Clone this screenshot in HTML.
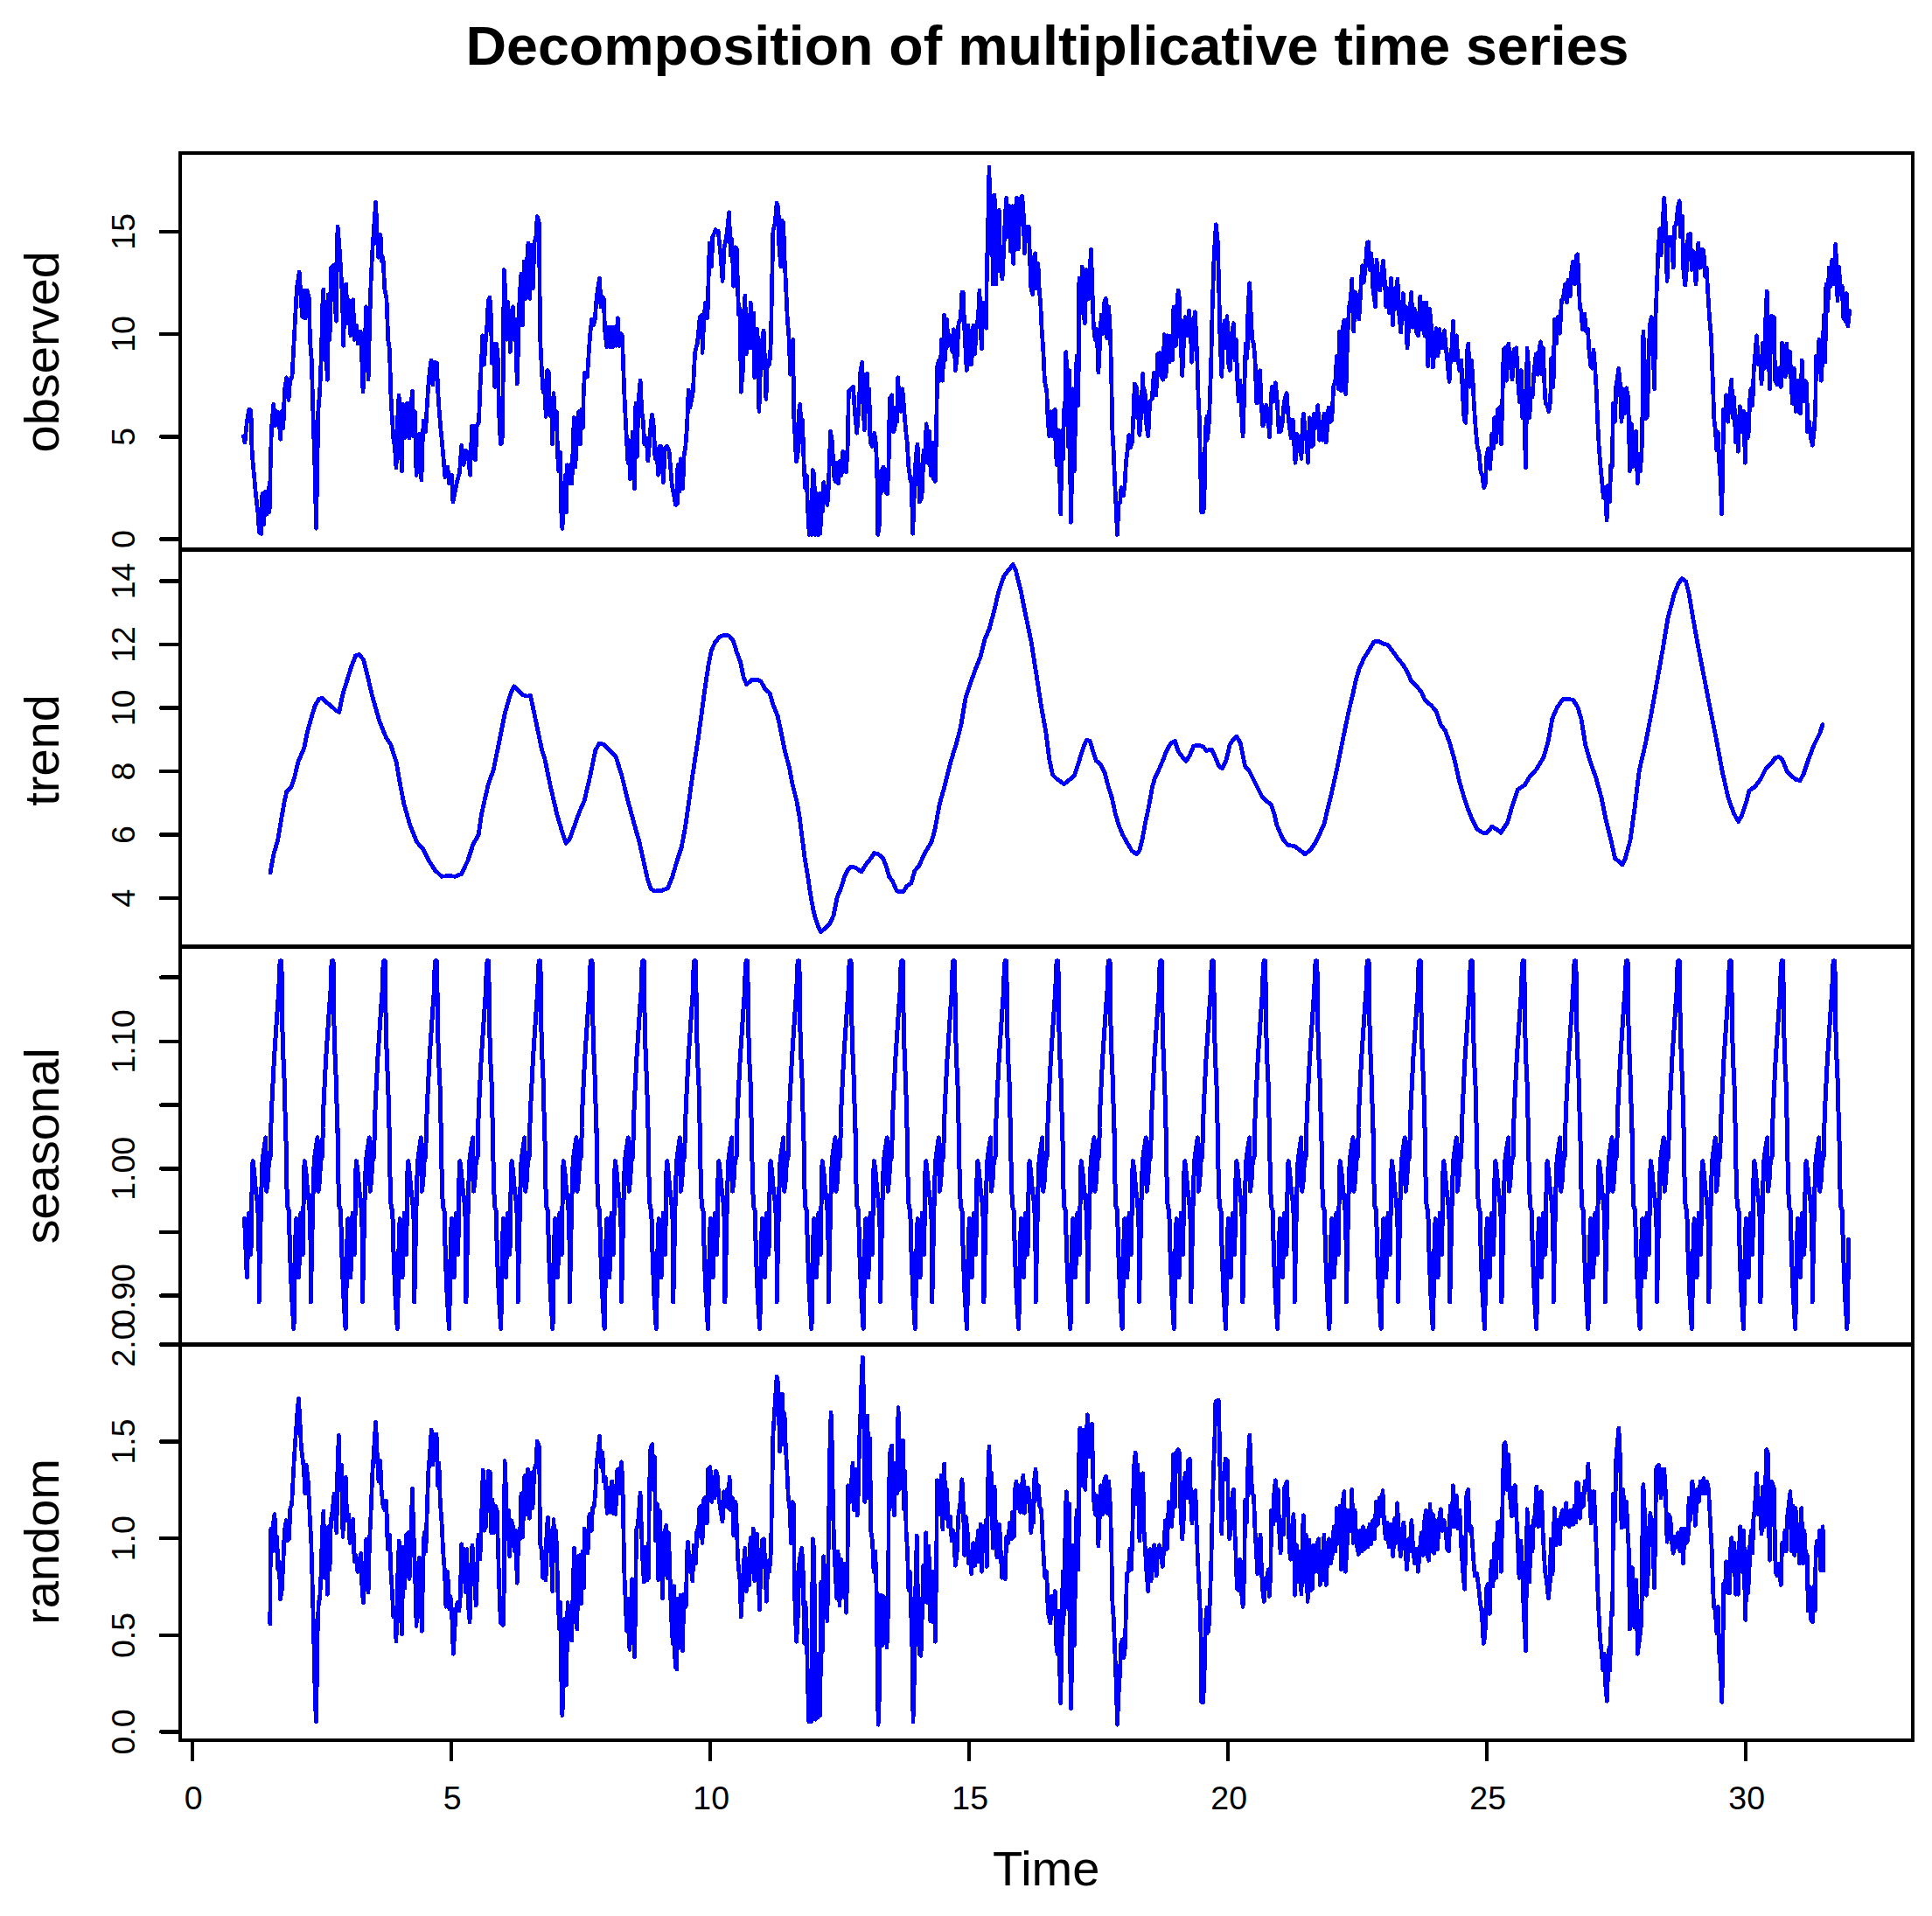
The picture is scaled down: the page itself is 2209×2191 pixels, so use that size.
<!DOCTYPE html>
<html><head><meta charset="utf-8"><title>Decomposition of multiplicative time series</title>
<style>
html,body{margin:0;padding:0;background:#fff;}
body{width:2209px;height:2191px;overflow:hidden;}
svg{display:block;}
text{font-family:"Liberation Sans",Arial,sans-serif;fill:#000;}
.ax{font-size:37.5px;}
.lab{font-size:56px;}
.ttl{font-size:63px;font-weight:bold;}
.ln{fill:none;stroke:#0000ff;stroke-linejoin:round;stroke-linecap:round;}
.k{stroke:#000;fill:none;}
</style></head><body>
<svg width="2209" height="2191" viewBox="0 0 2209 2191">
<rect x="0" y="0" width="2209" height="2191" fill="#fff"/>

<text class="ttl" x="1197.5" y="74" text-anchor="middle" textLength="1330" lengthAdjust="spacingAndGlyphs">Decomposition of multiplicative time series</text>
<polyline class="ln" stroke-width="4.7" shape-rendering="crispEdges" points="278.3,498.7 280.0,505.8 282.3,482.3 284.7,468.2 287.0,469.4 287.7,505.8 288.7,524.6 290.5,543.4 292.4,564.5 294.8,585.6 296.4,609.1 298.8,610.3 299.9,564.5 301.8,599.7 303.4,562.2 305.1,588.0 307.0,557.5 308.1,585.6 309.3,529.3 310.5,489.4 312.8,462.3 314.5,487.0 316.4,470.6 318.7,472.9 320.6,502.3 322.2,470.6 323.9,489.4 325.3,447.1 327.6,431.8 330.0,457.6 331.6,435.3 334.0,430.6 335.6,400.1 337.5,364.9 339.4,329.7 342.2,310.9 344.1,341.4 345.7,362.5 347.4,332.0 349.2,363.7 351.1,332.0 353.5,341.4 354.4,388.4 356.3,411.9 357.5,458.8 358.6,494.1 359.8,529.3 361.5,604.4 362.9,529.3 363.8,470.6 365.7,447.1 367.6,400.1 368.5,353.1 369.9,330.8 371.6,411.9 372.3,364.9 373.2,411.9 374.4,434.2 375.1,336.7 377.0,388.4 378.6,306.2 380.9,303.8 382.6,341.4 384.5,367.2 384.9,294.4 386.1,259.2 388.0,282.7 389.6,306.2 391.5,341.4 392.7,395.4 393.9,346.1 395.7,325.0 397.4,369.6 399.0,343.7 400.9,383.7 403.7,342.6 405.1,388.4 407.5,371.9 409.1,393.1 412.2,379.0 413.8,411.9 415.0,448.3 416.9,411.9 418.5,350.8 420.2,388.4 421.1,434.2 422.5,376.6 423.9,327.3 425.6,289.7 427.2,266.2 429.6,231.0 431.4,270.9 432.6,294.4 435.0,268.6 436.6,299.1 438.0,294.4 439.7,329.7 442.0,341.4 443.7,388.4 445.5,400.1 446.7,447.1 447.9,470.6 449.8,501.1 451.4,510.5 453.0,535.1 454.5,482.3 456.1,451.8 457.7,505.8 459.6,538.7 460.8,462.3 462.4,501.1 464.3,462.3 466.2,461.2 467.8,501.1 469.5,470.6 471.4,447.1 472.5,498.7 474.2,470.6 476.1,543.4 477.9,498.7 479.6,496.4 481.9,549.2 483.1,505.8 484.3,481.1 486.6,494.1 488.3,463.5 489.7,442.4 491.3,423.6 493.0,411.9 494.9,440.0 496.7,414.2 499.5,415.4 500.7,447.1 501.9,465.9 503.8,489.4 505.4,505.8 507.1,524.6 508.9,545.7 511.8,534.0 513.6,552.8 516.5,543.4 517.9,573.9 520.2,562.2 522.6,550.4 525.4,541.0 527.7,509.3 530.1,531.6 532.4,515.2 534.8,517.5 537.6,543.4 539.5,487.0 541.2,487.0 543.5,525.8 545.2,487.0 547.5,482.3 548.9,444.7 550.6,411.9 551.7,383.7 553.6,416.5 555.3,388.4 556.9,371.9 558.3,343.7 560.0,340.2 561.6,364.9 562.3,415.4 564.0,393.1 565.8,442.4 567.7,393.1 569.4,411.9 570.5,470.6 572.4,508.1 574.1,505.8 575.2,435.3 575.7,364.9 576.4,308.5 578.0,341.4 579.5,388.4 580.4,344.9 581.8,364.9 583.4,402.5 584.6,357.8 586.5,350.8 588.1,388.4 589.3,364.9 591.2,438.9 592.8,388.4 594.0,341.4 595.9,313.2 597.5,371.9 599.2,299.1 601.1,341.4 602.2,303.8 603.9,278.0 605.8,341.4 607.6,280.3 609.3,329.7 610.9,278.0 612.8,270.9 614.2,247.5 616.3,254.5 617.0,317.9 617.5,383.7 619.4,423.6 621.0,448.3 622.7,435.3 624.1,476.4 625.7,423.6 627.4,425.9 628.8,475.3 630.4,458.8 631.6,508.1 633.0,449.4 634.4,482.3 636.3,470.6 637.5,517.5 638.6,538.7 640.5,517.5 641.5,580.9 642.9,604.4 644.5,576.2 646.2,543.4 647.6,585.6 648.5,531.6 650.4,552.8 651.6,531.6 653.9,552.8 655.1,510.5 656.3,477.6 657.9,534.0 659.8,482.3 661.7,470.6 663.3,508.1 664.9,468.2 666.4,489.4 667.3,447.1 668.7,425.9 671.5,430.6 673.4,400.1 675.0,379.0 676.7,364.9 678.6,371.9 680.4,364.9 681.6,346.1 683.3,332.0 685.6,317.9 687.0,350.8 688.4,339.0 690.3,341.4 691.5,376.6 693.8,396.6 695.5,374.3 697.4,396.6 699.2,374.3 700.9,396.6 703.2,374.3 704.4,395.4 706.3,363.7 707.9,395.4 709.6,381.3 711.4,383.7 712.6,416.5 713.8,449.4 715.0,475.3 716.6,505.8 718.0,529.3 719.0,503.4 720.4,548.1 722.0,524.6 723.2,494.1 725.5,558.6 726.9,461.2 728.4,522.2 729.8,461.2 732.1,435.3 733.8,470.6 735.4,482.3 736.8,508.1 739.2,501.1 740.8,526.9 743.1,501.1 744.3,482.3 745.7,474.1 747.6,489.4 749.0,524.6 750.9,512.8 752.5,543.4 754.2,510.5 756.1,510.5 758.4,551.6 760.3,512.8 762.6,510.5 765.0,515.2 766.6,534.0 768.3,555.1 770.2,564.5 772.5,577.4 774.4,576.2 774.9,531.6 776.7,562.2 778.4,524.6 780.7,558.6 781.9,522.2 783.8,510.5 785.4,489.4 786.6,463.5 787.1,445.9 788.9,465.9 790.8,456.5 792.5,447.1 793.6,421.2 794.8,402.5 797.2,393.1 798.3,383.7 800.2,362.5 802.6,360.2 803.0,403.6 804.9,364.9 806.6,346.1 808.9,363.7 810.1,317.9 811.3,278.0 813.6,305.0 814.8,270.9 818.3,262.7 820.6,266.2 821.2,263.9 824.2,294.4 826.1,321.4 828.2,282.7 831.3,266.2 833.6,242.8 835.3,292.1 836.9,273.3 838.8,327.3 840.7,282.7 842.5,285.0 843.5,329.7 844.7,360.2 846.3,353.1 847.2,448.3 849.4,423.6 850.5,388.4 851.9,337.9 853.3,404.8 855.2,371.9 856.4,397.8 858.3,346.1 859.9,397.8 861.8,357.8 862.7,431.8 864.6,376.6 866.0,376.6 867.9,470.6 869.8,411.9 871.7,388.4 873.1,377.8 874.5,411.9 875.9,456.5 877.5,411.9 879.9,416.5 881.5,388.4 882.5,329.7 883.9,263.9 886.2,254.5 888.1,232.2 890.0,238.1 890.9,282.7 892.8,305.0 894.0,252.2 895.6,254.5 897.0,294.4 898.7,329.7 900.3,364.9 902.2,388.4 903.6,428.3 905.5,425.9 906.9,388.4 907.4,470.6 908.8,494.1 910.4,528.1 912.1,519.9 913.5,470.6 914.9,462.3 916.3,505.8 917.5,480.0 919.1,529.3 920.5,557.5 922.2,543.4 923.3,576.2 925.2,611.5 926.9,576.2 928.0,611.5 929.2,537.5 930.9,543.4 932.3,611.5 933.9,564.5 935.5,611.5 937.0,564.5 937.9,610.3 939.3,564.5 940.2,585.6 941.7,551.6 944.0,562.2 945.9,577.4 947.3,557.5 948.7,517.5 949.6,492.9 951.5,505.8 953.4,543.4 955.0,550.4 956.2,529.3 958.6,552.8 960.4,526.9 962.1,543.4 963.7,516.4 965.6,538.7 967.5,539.8 969.4,505.8 970.3,447.1 972.7,444.7 975.5,442.4 977.4,470.6 979.7,495.2 981.6,470.6 982.5,456.5 983.9,423.6 985.8,414.2 987.2,458.8 988.2,491.7 989.6,458.8 991.4,427.1 992.6,470.6 993.8,444.7 995.0,505.8 997.3,510.5 999.7,495.2 1001.3,505.8 1002.7,534.0 1003.7,611.5 1005.5,599.7 1006.7,538.7 1008.4,562.2 1009.8,534.0 1011.4,536.3 1012.6,562.2 1014.5,564.5 1016.1,529.3 1016.8,482.3 1017.7,455.3 1019.6,451.8 1021.5,494.1 1023.1,489.4 1024.3,465.9 1025.7,482.3 1026.7,431.8 1028.5,465.9 1030.2,470.6 1031.8,444.7 1033.7,468.2 1035.6,491.7 1037.2,505.8 1038.9,534.0 1040.8,548.1 1042.2,552.8 1043.6,610.3 1045.0,576.2 1045.9,543.4 1047.3,522.2 1049.0,508.1 1050.2,529.3 1051.3,573.9 1053.0,571.6 1054.4,562.2 1056.0,515.2 1057.7,529.3 1059.1,484.7 1060.7,529.3 1062.4,492.9 1064.2,543.4 1066.1,505.8 1067.1,546.9 1069.4,550.4 1070.8,477.6 1071.8,418.9 1073.6,411.9 1074.8,435.3 1076.5,388.4 1077.9,435.3 1079.5,360.2 1080.7,411.9 1082.6,364.9 1084.2,395.4 1086.6,383.7 1088.9,402.5 1090.5,376.6 1092.4,423.6 1094.3,407.2 1096.0,369.6 1098.3,364.9 1099.9,334.4 1101.2,334.4 1102.8,376.6 1105.2,423.6 1107.0,371.9 1108.9,416.5 1110.8,416.5 1112.9,371.9 1114.6,404.8 1116.4,371.9 1118.3,364.9 1120.0,332.0 1121.1,376.6 1122.5,398.9 1124.0,346.1 1125.8,364.9 1127.7,375.4 1128.2,317.9 1129.4,266.2 1130.5,224.0 1131.0,191.1 1132.4,289.7 1134.1,224.0 1135.2,325.0 1137.1,222.8 1138.8,325.0 1140.4,270.9 1142.3,240.4 1143.7,303.8 1146.0,319.1 1148.1,278.0 1149.3,247.5 1150.7,226.3 1152.1,270.9 1154.0,235.7 1155.4,287.4 1157.3,235.7 1158.7,301.5 1160.6,247.5 1162.5,226.3 1164.3,285.0 1166.2,228.7 1168.6,224.0 1170.0,238.1 1171.4,289.7 1173.3,259.2 1176.3,259.2 1177.5,294.4 1178.9,329.7 1180.8,336.7 1182.2,294.4 1183.6,289.7 1185.0,329.7 1186.9,301.5 1188.3,332.0 1189.7,346.1 1191.1,376.6 1192.8,400.1 1194.4,435.3 1196.8,447.1 1198.2,482.3 1199.8,498.7 1201.5,470.6 1203.3,498.7 1204.7,470.6 1206.2,468.2 1207.1,517.5 1208.5,531.6 1209.9,491.7 1211.3,529.3 1212.7,588.0 1213.7,529.3 1214.6,491.7 1215.5,524.6 1216.5,470.6 1217.9,458.8 1218.8,402.5 1220.2,435.3 1221.2,510.5 1222.6,423.6 1223.5,529.3 1224.5,597.4 1225.9,529.3 1226.8,444.7 1228.2,538.7 1229.6,482.3 1231.0,407.2 1232.9,463.5 1233.9,317.9 1235.7,357.8 1237.2,305.0 1238.6,357.8 1240.4,369.6 1242.3,308.5 1243.7,327.3 1245.1,341.4 1246.1,308.5 1247.5,285.0 1248.9,329.7 1250.3,371.9 1252.2,388.4 1254.1,376.6 1255.9,425.9 1257.8,388.4 1259.2,360.2 1261.1,381.3 1262.5,346.1 1264.4,341.4 1265.8,387.2 1267.7,350.8 1269.6,383.7 1271.0,444.7 1271.9,494.1 1273.3,517.5 1274.7,552.8 1276.1,580.9 1277.5,611.5 1279.0,576.2 1280.8,573.9 1282.0,557.5 1284.4,566.9 1286.0,555.1 1287.4,529.3 1289.1,515.2 1290.7,497.6 1292.6,511.7 1294.5,505.8 1295.9,475.3 1297.3,438.9 1299.2,442.4 1300.1,477.6 1301.5,454.1 1302.9,497.6 1304.8,470.6 1306.7,427.1 1308.1,470.6 1309.0,447.1 1310.9,487.0 1312.8,498.7 1314.7,458.8 1317.2,456.5 1319.4,425.9 1321.9,451.8 1323.6,404.8 1325.9,403.6 1327.8,430.6 1329.7,434.2 1331.3,382.5 1333.0,430.6 1334.9,383.7 1337.2,414.2 1339.1,383.7 1340.7,411.9 1341.9,350.8 1344.2,395.4 1345.7,350.8 1347.1,332.0 1348.5,341.4 1349.9,388.4 1351.8,429.5 1353.6,388.4 1355.0,362.5 1357.2,383.7 1359.5,355.5 1361.2,374.3 1362.6,414.2 1364.4,374.3 1366.3,356.7 1367.7,383.7 1368.9,414.2 1370.1,454.1 1371.5,482.3 1372.4,529.3 1373.8,585.6 1376.0,585.6 1377.1,564.5 1378.1,494.1 1379.9,476.4 1380.0,503.4 1381.9,491.7 1383.3,458.8 1384.7,416.5 1386.1,355.5 1388.0,294.4 1390.3,256.8 1392.2,275.6 1393.6,322.6 1395.0,388.4 1396.9,430.6 1398.3,388.4 1400.0,367.2 1401.1,397.8 1403.0,361.4 1404.7,416.5 1406.3,423.6 1408.2,383.7 1410.5,369.6 1411.9,411.9 1413.3,388.4 1414.8,435.3 1416.2,458.8 1418.0,435.3 1419.5,470.6 1421.1,498.7 1422.7,449.4 1424.2,393.1 1426.0,409.5 1427.0,350.8 1428.8,323.8 1430.3,360.2 1431.7,388.4 1433.5,393.1 1435.0,411.9 1436.8,461.2 1438.7,458.8 1440.6,423.6 1442.0,458.8 1443.9,487.0 1445.8,482.3 1447.6,463.5 1449.5,470.6 1451.6,499.9 1453.3,458.8 1454.2,442.4 1456.3,458.8 1458.4,437.7 1460.3,458.8 1462.2,494.1 1464.5,492.9 1466.4,482.3 1468.3,458.8 1471.1,449.4 1472.8,472.9 1474.4,489.4 1476.3,501.1 1478.2,480.0 1479.6,505.8 1481.0,529.3 1482.9,496.4 1484.7,515.2 1486.6,498.7 1488.0,524.6 1489.4,482.3 1490.4,472.9 1492.3,494.1 1494.1,505.8 1495.5,529.3 1497.4,477.6 1499.3,510.5 1501.2,509.3 1502.6,472.9 1504.5,489.4 1506.8,463.5 1508.7,503.4 1510.6,482.3 1512.5,503.4 1513.9,472.9 1516.2,505.8 1518.1,482.3 1519.0,465.9 1520.9,482.3 1522.8,480.0 1524.7,442.4 1526.8,435.3 1528.4,407.2 1530.3,444.7 1531.7,379.0 1533.6,447.1 1535.0,376.6 1536.9,366.1 1538.8,450.6 1540.6,388.4 1542.5,350.8 1544.4,341.4 1545.8,319.1 1547.7,379.0 1549.6,334.4 1551.9,339.0 1553.8,364.9 1555.7,334.4 1557.5,303.8 1559.4,322.6 1561.3,303.8 1563.2,278.0 1564.6,276.8 1566.0,308.5 1567.9,289.7 1569.8,329.7 1572.6,350.8 1574.0,296.8 1575.9,322.6 1577.7,332.0 1579.6,313.2 1581.5,297.9 1583.4,322.6 1584.8,350.8 1586.7,329.7 1588.5,357.8 1590.4,317.9 1592.5,371.9 1594.2,329.7 1596.1,353.1 1597.9,319.1 1599.8,360.2 1601.7,380.1 1604.3,335.5 1605.9,364.9 1607.3,350.8 1609.0,397.8 1611.3,364.9 1613.7,334.4 1615.3,374.3 1617.2,353.1 1619.1,379.0 1621.4,383.7 1623.8,339.0 1625.7,376.6 1627.5,346.1 1628.9,383.7 1630.8,346.1 1632.7,418.9 1634.6,353.1 1636.5,374.3 1638.3,420.1 1640.2,400.1 1642.1,375.4 1644.0,407.2 1645.9,376.6 1647.7,397.8 1649.6,397.8 1651.5,377.8 1653.4,400.1 1655.2,416.5 1657.1,436.5 1659.0,400.1 1660.0,400.1 1661.4,367.2 1663.3,411.9 1665.2,383.7 1667.0,411.9 1668.9,423.6 1670.8,411.9 1672.2,447.1 1674.1,480.0 1676.0,483.5 1677.4,402.5 1678.8,393.1 1680.7,442.4 1682.5,411.9 1684.0,435.3 1685.4,463.5 1687.2,489.4 1689.1,510.5 1691.0,517.5 1692.9,538.7 1694.8,543.4 1696.6,557.5 1698.5,552.8 1699.9,519.9 1701.8,512.8 1703.7,536.3 1705.6,496.4 1707.4,512.8 1708.8,477.6 1710.7,505.8 1712.6,468.2 1714.5,465.9 1716.4,508.1 1717.8,458.8 1719.2,400.1 1721.1,397.8 1722.5,435.3 1724.8,393.1 1726.7,411.9 1729.0,434.2 1730.9,400.1 1733.7,397.8 1735.6,435.3 1737.5,460.0 1739.4,423.6 1740.8,477.6 1742.2,447.1 1743.6,505.8 1744.5,535.1 1745.5,458.8 1746.0,397.8 1747.4,416.5 1748.8,477.6 1750.4,447.1 1752.1,454.1 1753.9,425.9 1756.3,404.8 1758.2,428.3 1759.6,402.5 1761.5,390.7 1763.3,428.3 1764.3,397.8 1765.7,435.3 1767.1,461.2 1769.0,463.5 1770.9,470.6 1772.7,458.8 1773.7,409.5 1776.0,442.4 1777.4,364.9 1779.3,393.1 1781.2,362.5 1783.5,381.3 1785.4,343.7 1787.3,341.4 1789.6,325.0 1791.5,346.1 1792.9,320.3 1795.3,339.0 1796.7,310.9 1798.6,299.1 1800.4,325.0 1802.3,292.1 1803.7,290.9 1805.1,322.6 1806.5,353.1 1808.0,355.5 1809.4,376.6 1811.7,359.0 1813.6,379.0 1815.5,376.6 1816.9,400.1 1818.8,418.9 1820.6,421.2 1822.0,400.1 1823.9,423.6 1825.3,447.1 1826.7,482.3 1828.2,510.5 1829.6,529.3 1831.4,548.1 1833.3,569.2 1835.2,557.5 1837.1,595.0 1838.5,555.1 1840.4,573.9 1841.8,531.6 1843.2,534.0 1844.6,461.2 1846.5,482.3 1847.9,440.0 1849.3,433.0 1850.7,421.2 1852.1,435.3 1854.0,482.3 1855.9,444.7 1857.7,472.9 1859.6,443.6 1861.5,454.1 1862.4,482.3 1863.4,538.7 1865.3,484.7 1866.7,534.0 1868.5,524.6 1870.4,492.9 1872.3,552.8 1873.7,519.9 1875.6,538.7 1877.5,505.8 1878.4,435.3 1878.9,379.0 1880.3,414.2 1881.7,478.8 1883.6,475.3 1885.0,411.9 1886.4,371.9 1888.3,362.5 1890.2,402.5 1891.6,444.7 1893.0,362.5 1894.4,327.3 1895.8,289.7 1897.7,261.5 1899.1,292.1 1901.0,256.8 1902.8,226.3 1904.2,254.5 1906.1,321.4 1907.5,270.9 1909.4,275.6 1911.3,270.9 1913.2,306.2 1914.6,259.2 1916.5,256.8 1918.3,238.1 1920.2,229.8 1921.6,270.9 1923.5,247.5 1924.9,310.9 1926.8,326.1 1928.2,310.9 1930.1,268.6 1932.4,267.4 1934.3,308.5 1936.2,287.4 1938.1,308.5 1939.0,325.0 1940.4,294.4 1941.8,278.0 1943.7,306.2 1945.1,285.0 1947.9,286.2 1949.3,315.6 1951.2,306.2 1952.6,332.0 1954.5,362.5 1956.4,383.7 1958.3,435.3 1959.9,480.0 1961.1,489.4 1962.9,515.2 1964.3,494.1 1965.8,529.3 1967.2,548.1 1968.6,588.0 1970.0,529.3 1970.5,468.2 1972.3,477.6 1973.7,451.8 1975.6,482.3 1977.5,454.1 1979.8,434.2 1981.3,477.6 1982.7,454.1 1984.5,505.8 1986.0,482.3 1987.4,516.4 1989.2,464.7 1991.1,494.1 1992.5,470.6 1993.9,470.6 1995.3,529.3 1996.8,472.9 1998.2,501.1 1999.6,491.7 2000.5,458.8 2001.9,444.7 2003.8,463.5 2005.2,423.6 2007.1,402.5 2008.5,383.7 2010.4,416.5 2012.3,407.2 2014.1,438.9 2015.5,391.9 2017.4,421.2 2018.8,364.9 2020.2,333.2 2021.7,388.4 2023.5,444.7 2024.9,361.4 2028.2,362.5 2029.6,435.3 2032.0,440.0 2033.9,421.2 2036.2,442.4 2037.6,391.9 2039.5,418.9 2041.4,430.6 2042.8,393.1 2044.7,425.9 2046.5,402.5 2048.0,435.3 2049.4,461.2 2051.2,421.2 2053.1,470.6 2055.0,435.3 2056.9,470.6 2058.8,472.9 2060.2,411.9 2062.0,458.8 2063.9,435.3 2065.8,438.9 2066.7,494.1 2068.6,482.3 2070.5,501.1 2072.4,509.3 2074.3,491.7 2075.7,468.2 2076.6,407.2 2078.5,423.6 2079.9,388.4 2082.2,435.3 2083.7,411.9 2085.5,360.2 2086.9,414.2 2087.9,325.0 2089.8,355.5 2091.2,306.2 2093.0,327.3 2094.9,296.8 2096.8,325.0 2098.7,279.2 2100.1,313.2 2101.0,343.7 2102.4,305.0 2104.3,327.3 2106.2,327.3 2107.6,362.5 2110.0,367.2 2111.4,335.5 2112.8,373.1 2114.7,355.5"/>
<polyline class="ln" stroke-width="4.8" shape-rendering="crispEdges" points="309.0,998.0 312.9,976.8 317.8,960.0 321.9,935.4 325.1,917.3 327.6,905.6 332.8,900.4 336.7,888.8 341.1,870.7 347.8,855.2 351.4,837.0 356.1,820.2 360.0,807.3 364.6,799.5 368.5,798.2 373.7,803.4 379.4,808.1 384.1,812.5 387.7,814.3 391.8,794.3 396.2,780.1 401.4,763.3 406.6,749.6 410.5,748.5 415.6,754.2 419.5,769.8 425.5,795.6 433.7,824.1 441.5,843.5 446.7,851.3 453.2,872.0 457.0,894.0 461.7,918.6 468.7,943.1 476.4,962.6 484.2,971.6 489.4,982.5 497.2,994.9 504.9,1002.2 512.7,1001.6 520.4,1002.2 527.4,999.6 534.7,984.6 541.1,965.1 547.1,954.8 550.2,932.8 558.0,897.9 564.4,879.7 570.9,847.4 577.4,815.0 583.9,793.0 587.7,784.8 591.6,788.4 596.8,794.3 602.0,796.1 606.6,795.6 612.3,822.8 619.6,857.7 622.7,866.8 629.1,897.9 636.9,931.5 643.4,953.5 647.3,964.4 651.1,960.0 656.3,945.7 662.8,927.6 668.0,916.0 674.4,888.8 680.9,857.7 685.3,850.0 690.0,851.3 696.4,857.7 704.2,865.5 710.7,886.2 718.4,917.3 727.5,950.9 730.0,958.7 735.2,982.0 740.4,1005.3 744.2,1016.1 748.1,1019.0 755.9,1018.7 763.6,1015.6 768.8,1002.7 774.0,984.6 779.2,969.0 783.1,948.3 786.9,922.4 790.8,894.0 794.7,868.1 798.6,842.2 802.5,813.7 806.3,785.3 810.2,759.4 813.3,743.9 817.5,734.8 822.7,728.3 828.3,726.3 833.5,727.0 838.2,732.2 842.6,746.5 846.5,756.8 850.3,774.9 853.7,782.7 859.4,777.5 864.6,777.0 869.8,778.8 874.9,787.9 880.1,792.5 884.0,806.0 889.2,818.9 893.0,837.0 897.7,860.3 902.1,875.9 906.0,896.6 911.2,917.3 914.3,935.4 916.9,956.1 920.2,982.0 924.1,1005.3 927.2,1026.0 930.6,1044.1 934.5,1057.0 938.3,1065.6 942.2,1062.7 948.7,1056.5 953.1,1046.7 957.2,1026.0 961.6,1015.6 965.5,1002.7 969.4,994.9 973.3,991.0 978.4,992.3 984.9,997.0 990.1,988.4 995.3,982.0 999.7,975.5 1004.3,976.8 1009.5,981.4 1013.4,991.0 1016.7,1002.7 1020.4,1007.3 1025.0,1018.2 1028.9,1020.0 1032.8,1019.5 1036.7,1013.5 1041.9,1009.9 1045.7,996.2 1050.9,989.7 1057.4,975.5 1065.1,962.6 1069.0,948.3 1074.2,919.9 1080.7,896.6 1087.1,870.7 1093.6,850.0 1098.8,829.3 1104.0,798.2 1109.1,782.7 1115.6,764.6 1120.8,751.6 1126.0,730.9 1131.1,719.3 1136.3,699.9 1141.5,677.9 1148.0,658.5 1153.1,652.0 1158.3,645.5 1161.7,653.3 1167.4,676.6 1172.5,702.5 1179.0,733.5 1185.5,774.9 1190.7,808.6 1195.8,837.0 1199.7,868.1 1203.6,886.2 1208.8,891.4 1210.0,891.9 1216.5,896.6 1221.6,892.7 1228.1,887.5 1233.3,872.0 1238.5,855.2 1242.3,846.1 1246.2,847.4 1250.1,860.3 1253.5,870.2 1257.9,873.3 1263.1,883.6 1267.5,900.4 1271.6,913.4 1275.2,930.2 1279.4,944.4 1283.8,954.8 1288.9,963.9 1294.1,972.9 1299.3,976.8 1302.7,972.9 1306.3,958.7 1309.6,940.6 1313.5,922.4 1317.4,900.4 1320.8,888.8 1325.2,879.7 1329.6,869.4 1334.2,857.7 1338.9,849.5 1343.3,847.4 1347.2,859.0 1351.8,865.5 1356.2,870.2 1360.1,864.2 1364.8,853.1 1370.5,852.0 1375.6,853.9 1379.5,858.3 1385.5,857.2 1389.9,866.8 1393.7,875.9 1397.6,879.0 1402.0,869.4 1406.2,851.3 1409.8,846.1 1413.9,842.2 1418.3,850.0 1420.9,862.9 1423.5,875.9 1428.7,882.3 1433.9,892.7 1439.0,903.0 1442.9,910.8 1448.1,916.0 1453.3,919.9 1457.2,931.5 1459.7,943.1 1463.6,952.2 1467.5,960.7 1472.7,966.4 1480.4,967.7 1485.6,971.6 1492.1,976.8 1498.6,971.6 1503.7,963.9 1508.9,953.5 1514.1,941.9 1518.0,925.0 1523.1,904.3 1528.8,878.4 1533.5,855.2 1538.2,831.9 1542.6,811.2 1546.4,795.6 1550.3,777.5 1554.2,764.6 1559.4,752.9 1565.8,742.6 1571.0,734.0 1576.2,733.0 1581.4,736.1 1586.6,737.4 1591.7,743.9 1598.2,752.9 1604.7,760.7 1609.8,769.8 1613.7,778.8 1620.2,785.3 1625.4,791.7 1629.3,800.8 1635.7,806.0 1641.7,812.5 1646.9,828.0 1652.5,835.7 1657.7,850.0 1662.9,868.1 1668.1,891.4 1673.3,909.5 1678.4,925.0 1683.6,938.0 1688.8,947.8 1690.0,948.8 1695.2,952.2 1700.4,952.2 1706.0,945.2 1712.0,948.8 1715.9,952.2 1723.6,940.6 1728.8,922.4 1735.3,903.0 1743.1,897.9 1749.5,887.5 1756.8,879.7 1765.1,865.5 1770.2,847.4 1774.9,821.5 1780.6,808.6 1787.0,799.5 1793.5,799.5 1798.7,800.3 1803.9,808.6 1807.8,821.5 1812.9,852.6 1818.1,870.7 1824.6,888.8 1831.0,912.1 1836.2,938.0 1842.7,963.9 1846.6,982.0 1850.5,984.6 1854.9,989.0 1858.2,982.0 1863.9,961.3 1868.6,927.6 1874.3,881.0 1881.5,850.0 1888.0,816.3 1894.5,780.1 1900.9,743.9 1906.9,707.6 1913.9,680.5 1919.0,667.5 1922.9,661.6 1927.6,664.9 1931.2,679.2 1935.9,707.6 1941.0,736.1 1947.5,769.8 1954.0,803.4 1961.7,842.2 1969.5,883.6 1976.0,912.1 1982.4,930.2 1987.6,939.3 1991.5,932.8 1996.7,917.3 2000.0,904.3 2007.0,899.2 2013.5,890.1 2018.7,879.7 2025.1,873.3 2029.5,866.8 2034.2,865.5 2038.1,869.4 2043.3,882.3 2048.4,887.5 2053.6,891.4 2058.0,892.7 2062.2,884.9 2067.8,868.1 2074.3,851.3 2080.8,838.3 2083.9,828.8"/>
<polyline class="ln" stroke-width="5.0" shape-rendering="crispEdges" points="279.4,1398.6 279.6,1393.6 281.1,1430.7 282.4,1460.7 283.7,1417.9 284.7,1387.2 286.3,1417.9 286.9,1434.5 287.8,1379.5 288.3,1341.2 289.1,1327.7 290.7,1341.2 292.4,1361.6 294.2,1374.4 295.5,1394.9 296.0,1430.7 296.1,1488.8 297.3,1430.7 298.4,1379.5 299.3,1347.5 300.1,1327.1 301.6,1315.6 303.8,1300.9 304.2,1328.4 304.7,1362.3 306.1,1351.4 307.4,1328.4 309.3,1322.0 309.3,1309.2 310.0,1297.7 309.8,1289.1 311.0,1259.1 312.2,1235.1 313.4,1211.1 314.6,1193.0 316.2,1169.0 317.4,1151.0 318.8,1133.0 319.4,1109.0 320.3,1098.8 321.8,1098.8 322.4,1133.0 322.7,1169.0 323.4,1193.0 324.2,1217.1 325.4,1241.1 326.0,1271.1 327.0,1301.1 326.9,1290.0 327.2,1328.4 327.8,1353.9 328.7,1379.5 330.4,1384.6 331.0,1411.5 332.0,1443.5 333.6,1481.8 335.9,1519.5 336.9,1469.0 337.8,1417.9 338.8,1393.6 340.3,1430.7 341.6,1460.7 342.9,1417.9 343.9,1387.2 345.5,1417.9 346.1,1434.5 347.0,1379.5 347.5,1341.2 348.3,1327.7 349.9,1341.2 351.6,1361.6 353.4,1374.4 354.7,1394.9 355.2,1430.7 355.3,1488.8 356.5,1430.7 357.6,1379.5 358.5,1347.5 359.3,1327.1 360.8,1315.6 363.0,1300.9 363.4,1328.4 363.9,1362.3 365.3,1351.4 366.6,1328.4 368.5,1322.0 368.5,1309.2 369.2,1297.7 369.0,1289.1 370.2,1259.1 371.4,1235.1 372.6,1211.1 373.8,1193.0 375.4,1169.0 376.6,1151.0 378.0,1133.0 378.6,1109.0 379.5,1098.8 381.0,1098.8 381.6,1133.0 381.9,1169.0 382.6,1193.0 383.4,1217.1 384.6,1241.1 385.2,1271.1 386.2,1301.1 386.1,1290.0 386.4,1328.4 387.0,1353.9 387.9,1379.5 389.6,1384.6 390.2,1411.5 391.2,1443.5 392.8,1481.8 395.1,1519.5 396.1,1469.0 397.0,1417.9 398.0,1393.6 399.5,1430.7 400.8,1460.7 402.1,1417.9 403.1,1387.2 404.7,1417.9 405.3,1434.5 406.2,1379.5 406.7,1341.2 407.5,1327.7 409.1,1341.2 410.8,1361.6 412.6,1374.4 413.9,1394.9 414.4,1430.7 414.5,1488.8 415.7,1430.7 416.8,1379.5 417.7,1347.5 418.5,1327.1 420.0,1315.6 422.2,1300.9 422.6,1328.4 423.1,1362.3 424.5,1351.4 425.8,1328.4 427.7,1322.0 427.7,1309.2 428.4,1297.7 428.2,1289.1 429.4,1259.1 430.6,1235.1 431.8,1211.1 433.0,1193.0 434.6,1169.0 435.8,1151.0 437.2,1133.0 437.8,1109.0 438.7,1098.8 440.2,1098.8 440.8,1133.0 441.1,1169.0 441.8,1193.0 442.6,1217.1 443.8,1241.1 444.4,1271.1 445.4,1301.1 445.3,1290.0 445.6,1328.4 446.2,1353.9 447.1,1379.5 448.8,1384.6 449.4,1411.5 450.4,1443.5 452.0,1481.8 454.3,1519.5 455.3,1469.0 456.2,1417.9 457.2,1393.6 458.7,1430.7 460.0,1460.7 461.3,1417.9 462.3,1387.2 463.9,1417.9 464.5,1434.5 465.4,1379.5 465.9,1341.2 466.7,1327.7 468.3,1341.2 470.0,1361.6 471.8,1374.4 473.1,1394.9 473.6,1430.7 473.7,1488.8 474.9,1430.7 476.0,1379.5 476.9,1347.5 477.7,1327.1 479.2,1315.6 481.4,1300.9 481.8,1328.4 482.3,1362.3 483.7,1351.4 485.0,1328.4 486.9,1322.0 486.9,1309.2 487.6,1297.7 487.4,1289.1 488.6,1259.1 489.8,1235.1 491.0,1211.1 492.2,1193.0 493.8,1169.0 495.0,1151.0 496.4,1133.0 497.0,1109.0 497.9,1098.8 499.4,1098.8 500.0,1133.0 500.3,1169.0 501.0,1193.0 501.8,1217.1 503.0,1241.1 503.6,1271.1 504.6,1301.1 504.5,1290.0 504.8,1328.4 505.4,1353.9 506.3,1379.5 508.0,1384.6 508.6,1411.5 509.6,1443.5 511.2,1481.8 513.5,1519.5 514.5,1469.0 515.4,1417.9 516.4,1393.6 517.9,1430.7 519.2,1460.7 520.5,1417.9 521.5,1387.2 523.1,1417.9 523.7,1434.5 524.6,1379.5 525.1,1341.2 525.9,1327.7 527.5,1341.2 529.2,1361.6 531.0,1374.4 532.3,1394.9 532.8,1430.7 532.9,1488.8 534.1,1430.7 535.2,1379.5 536.1,1347.5 536.9,1327.1 538.4,1315.6 540.6,1300.9 541.0,1328.4 541.5,1362.3 542.9,1351.4 544.2,1328.4 546.1,1322.0 546.1,1309.2 546.8,1297.7 546.6,1289.1 547.8,1259.1 549.0,1235.1 550.2,1211.1 551.4,1193.0 553.0,1169.0 554.2,1151.0 555.6,1133.0 556.2,1109.0 557.1,1098.8 558.6,1098.8 559.2,1133.0 559.5,1169.0 560.2,1193.0 561.0,1217.1 562.2,1241.1 562.8,1271.1 563.8,1301.1 563.7,1290.0 564.0,1328.4 564.6,1353.9 565.5,1379.5 567.2,1384.6 567.8,1411.5 568.8,1443.5 570.4,1481.8 572.7,1519.5 573.7,1469.0 574.6,1417.9 575.6,1393.6 577.1,1430.7 578.4,1460.7 579.7,1417.9 580.7,1387.2 582.3,1417.9 582.9,1434.5 583.8,1379.5 584.3,1341.2 585.1,1327.7 586.7,1341.2 588.4,1361.6 590.2,1374.4 591.5,1394.9 592.0,1430.7 592.1,1488.8 593.3,1430.7 594.4,1379.5 595.3,1347.5 596.1,1327.1 597.6,1315.6 599.8,1300.9 600.2,1328.4 600.7,1362.3 602.1,1351.4 603.4,1328.4 605.3,1322.0 605.3,1309.2 606.0,1297.7 605.8,1289.1 607.0,1259.1 608.2,1235.1 609.4,1211.1 610.6,1193.0 612.2,1169.0 613.4,1151.0 614.8,1133.0 615.4,1109.0 616.3,1098.8 617.8,1098.8 618.4,1133.0 618.7,1169.0 619.4,1193.0 620.2,1217.1 621.4,1241.1 622.0,1271.1 623.0,1301.1 622.9,1290.0 623.2,1328.4 623.8,1353.9 624.7,1379.5 626.4,1384.6 627.0,1411.5 628.0,1443.5 629.6,1481.8 631.9,1519.5 632.9,1469.0 633.8,1417.9 634.8,1393.6 636.3,1430.7 637.6,1460.7 638.9,1417.9 639.9,1387.2 641.5,1417.9 642.1,1434.5 643.0,1379.5 643.5,1341.2 644.3,1327.7 645.9,1341.2 647.6,1361.6 649.4,1374.4 650.7,1394.9 651.2,1430.7 651.3,1488.8 652.5,1430.7 653.6,1379.5 654.5,1347.5 655.3,1327.1 656.8,1315.6 659.0,1300.9 659.4,1328.4 659.9,1362.3 661.3,1351.4 662.6,1328.4 664.5,1322.0 664.5,1309.2 665.2,1297.7 665.0,1289.1 666.2,1259.1 667.4,1235.1 668.6,1211.1 669.8,1193.0 671.4,1169.0 672.6,1151.0 674.0,1133.0 674.6,1109.0 675.5,1098.8 677.0,1098.8 677.6,1133.0 677.9,1169.0 678.6,1193.0 679.4,1217.1 680.6,1241.1 681.2,1271.1 682.2,1301.1 682.1,1290.0 682.4,1328.4 683.0,1353.9 683.9,1379.5 685.6,1384.6 686.2,1411.5 687.2,1443.5 688.8,1481.8 691.1,1519.5 692.1,1469.0 693.0,1417.9 694.0,1393.6 695.5,1430.7 696.8,1460.7 698.1,1417.9 699.1,1387.2 700.7,1417.9 701.3,1434.5 702.2,1379.5 702.7,1341.2 703.5,1327.7 705.1,1341.2 706.8,1361.6 708.6,1374.4 709.9,1394.9 710.4,1430.7 710.5,1488.8 711.7,1430.7 712.8,1379.5 713.7,1347.5 714.5,1327.1 716.0,1315.6 718.2,1300.9 718.6,1328.4 719.1,1362.3 720.5,1351.4 721.8,1328.4 723.7,1322.0 723.7,1309.2 724.4,1297.7 724.2,1289.1 725.4,1259.1 726.6,1235.1 727.8,1211.1 729.0,1193.0 730.6,1169.0 731.8,1151.0 733.2,1133.0 733.8,1109.0 734.7,1098.8 736.2,1098.8 736.8,1133.0 737.1,1169.0 737.8,1193.0 738.6,1217.1 739.8,1241.1 740.4,1271.1 741.4,1301.1 741.3,1290.0 741.6,1328.4 742.2,1353.9 743.1,1379.5 744.8,1384.6 745.4,1411.5 746.4,1443.5 748.0,1481.8 750.3,1519.5 751.3,1469.0 752.2,1417.9 753.2,1393.6 754.7,1430.7 756.0,1460.7 757.3,1417.9 758.3,1387.2 759.9,1417.9 760.5,1434.5 761.4,1379.5 761.9,1341.2 762.7,1327.7 764.3,1341.2 766.0,1361.6 767.8,1374.4 769.1,1394.9 769.6,1430.7 769.7,1488.8 770.9,1430.7 772.0,1379.5 772.9,1347.5 773.7,1327.1 775.2,1315.6 777.4,1300.9 777.8,1328.4 778.3,1362.3 779.7,1351.4 781.0,1328.4 782.9,1322.0 782.9,1309.2 783.6,1297.7 783.4,1289.1 784.6,1259.1 785.8,1235.1 787.0,1211.1 788.2,1193.0 789.8,1169.0 791.0,1151.0 792.4,1133.0 793.0,1109.0 793.9,1098.8 795.4,1098.8 796.0,1133.0 796.3,1169.0 797.0,1193.0 797.8,1217.1 799.0,1241.1 799.6,1271.1 800.6,1301.1 800.5,1290.0 800.8,1328.4 801.4,1353.9 802.3,1379.5 804.0,1384.6 804.6,1411.5 805.6,1443.5 807.2,1481.8 809.5,1519.5 810.5,1469.0 811.4,1417.9 812.4,1393.6 813.9,1430.7 815.2,1460.7 816.5,1417.9 817.5,1387.2 819.1,1417.9 819.7,1434.5 820.6,1379.5 821.1,1341.2 821.9,1327.7 823.5,1341.2 825.2,1361.6 827.0,1374.4 828.3,1394.9 828.8,1430.7 828.9,1488.8 830.1,1430.7 831.2,1379.5 832.1,1347.5 832.9,1327.1 834.4,1315.6 836.6,1300.9 837.0,1328.4 837.5,1362.3 838.9,1351.4 840.2,1328.4 842.1,1322.0 842.1,1309.2 842.8,1297.7 842.6,1289.1 843.8,1259.1 845.0,1235.1 846.2,1211.1 847.4,1193.0 849.0,1169.0 850.2,1151.0 851.6,1133.0 852.2,1109.0 853.1,1098.8 854.6,1098.8 855.2,1133.0 855.5,1169.0 856.2,1193.0 857.0,1217.1 858.2,1241.1 858.8,1271.1 859.8,1301.1 859.7,1290.0 860.0,1328.4 860.6,1353.9 861.5,1379.5 863.2,1384.6 863.8,1411.5 864.8,1443.5 866.4,1481.8 868.7,1519.5 869.7,1469.0 870.6,1417.9 871.6,1393.6 873.1,1430.7 874.4,1460.7 875.7,1417.9 876.7,1387.2 878.3,1417.9 878.9,1434.5 879.8,1379.5 880.3,1341.2 881.1,1327.7 882.7,1341.2 884.4,1361.6 886.2,1374.4 887.5,1394.9 888.0,1430.7 888.1,1488.8 889.3,1430.7 890.4,1379.5 891.3,1347.5 892.1,1327.1 893.6,1315.6 895.8,1300.9 896.2,1328.4 896.7,1362.3 898.1,1351.4 899.4,1328.4 901.3,1322.0 901.3,1309.2 902.0,1297.7 901.8,1289.1 903.0,1259.1 904.2,1235.1 905.4,1211.1 906.6,1193.0 908.2,1169.0 909.4,1151.0 910.8,1133.0 911.4,1109.0 912.3,1098.8 913.8,1098.8 914.4,1133.0 914.7,1169.0 915.4,1193.0 916.2,1217.1 917.4,1241.1 918.0,1271.1 919.0,1301.1 918.9,1290.0 919.2,1328.4 919.8,1353.9 920.7,1379.5 922.4,1384.6 923.0,1411.5 924.0,1443.5 925.6,1481.8 927.9,1519.5 928.9,1469.0 929.8,1417.9 930.8,1393.6 932.3,1430.7 933.6,1460.7 934.9,1417.9 935.9,1387.2 937.5,1417.9 938.1,1434.5 939.0,1379.5 939.5,1341.2 940.3,1327.7 941.9,1341.2 943.6,1361.6 945.4,1374.4 946.7,1394.9 947.2,1430.7 947.3,1488.8 948.5,1430.7 949.6,1379.5 950.5,1347.5 951.3,1327.1 952.8,1315.6 955.0,1300.9 955.4,1328.4 955.9,1362.3 957.3,1351.4 958.6,1328.4 960.5,1322.0 960.5,1309.2 961.2,1297.7 961.0,1289.1 962.2,1259.1 963.4,1235.1 964.6,1211.1 965.8,1193.0 967.4,1169.0 968.6,1151.0 970.0,1133.0 970.6,1109.0 971.5,1098.8 973.0,1098.8 973.6,1133.0 973.9,1169.0 974.6,1193.0 975.4,1217.1 976.6,1241.1 977.2,1271.1 978.2,1301.1 978.1,1290.0 978.4,1328.4 979.0,1353.9 979.9,1379.5 981.6,1384.6 982.2,1411.5 983.2,1443.5 984.8,1481.8 987.1,1519.5 988.1,1469.0 989.0,1417.9 990.0,1393.6 991.5,1430.7 992.8,1460.7 994.1,1417.9 995.1,1387.2 996.7,1417.9 997.3,1434.5 998.2,1379.5 998.7,1341.2 999.5,1327.7 1001.1,1341.2 1002.8,1361.6 1004.6,1374.4 1005.9,1394.9 1006.4,1430.7 1006.5,1488.8 1007.7,1430.7 1008.8,1379.5 1009.7,1347.5 1010.5,1327.1 1012.0,1315.6 1014.2,1300.9 1014.6,1328.4 1015.1,1362.3 1016.5,1351.4 1017.8,1328.4 1019.7,1322.0 1019.7,1309.2 1020.4,1297.7 1020.2,1289.1 1021.4,1259.1 1022.6,1235.1 1023.8,1211.1 1025.0,1193.0 1026.6,1169.0 1027.8,1151.0 1029.2,1133.0 1029.8,1109.0 1030.7,1098.8 1032.2,1098.8 1032.8,1133.0 1033.1,1169.0 1033.8,1193.0 1034.6,1217.1 1035.8,1241.1 1036.4,1271.1 1037.4,1301.1 1037.3,1290.0 1037.6,1328.4 1038.2,1353.9 1039.1,1379.5 1040.8,1384.6 1041.4,1411.5 1042.4,1443.5 1044.0,1481.8 1046.3,1519.5 1047.3,1469.0 1048.2,1417.9 1049.2,1393.6 1050.7,1430.7 1052.0,1460.7 1053.3,1417.9 1054.3,1387.2 1055.9,1417.9 1056.5,1434.5 1057.4,1379.5 1057.9,1341.2 1058.7,1327.7 1060.3,1341.2 1062.0,1361.6 1063.8,1374.4 1065.1,1394.9 1065.6,1430.7 1065.7,1488.8 1066.9,1430.7 1068.0,1379.5 1068.9,1347.5 1069.7,1327.1 1071.2,1315.6 1073.4,1300.9 1073.8,1328.4 1074.3,1362.3 1075.7,1351.4 1077.0,1328.4 1078.9,1322.0 1078.9,1309.2 1079.6,1297.7 1079.4,1289.1 1080.6,1259.1 1081.8,1235.1 1083.0,1211.1 1084.2,1193.0 1085.8,1169.0 1087.0,1151.0 1088.4,1133.0 1089.0,1109.0 1089.9,1098.8 1091.4,1098.8 1092.0,1133.0 1092.3,1169.0 1093.0,1193.0 1093.8,1217.1 1095.0,1241.1 1095.6,1271.1 1096.6,1301.1 1096.5,1290.0 1096.8,1328.4 1097.4,1353.9 1098.3,1379.5 1100.0,1384.6 1100.6,1411.5 1101.6,1443.5 1103.2,1481.8 1105.5,1519.5 1106.5,1469.0 1107.4,1417.9 1108.4,1393.6 1109.9,1430.7 1111.2,1460.7 1112.5,1417.9 1113.5,1387.2 1115.1,1417.9 1115.7,1434.5 1116.6,1379.5 1117.1,1341.2 1117.9,1327.7 1119.5,1341.2 1121.2,1361.6 1123.0,1374.4 1124.3,1394.9 1124.8,1430.7 1124.9,1488.8 1126.1,1430.7 1127.2,1379.5 1128.1,1347.5 1128.9,1327.1 1130.4,1315.6 1132.6,1300.9 1133.0,1328.4 1133.5,1362.3 1134.9,1351.4 1136.2,1328.4 1138.1,1322.0 1138.1,1309.2 1138.8,1297.7 1138.6,1289.1 1139.8,1259.1 1141.0,1235.1 1142.2,1211.1 1143.4,1193.0 1145.0,1169.0 1146.2,1151.0 1147.6,1133.0 1148.2,1109.0 1149.1,1098.8 1150.6,1098.8 1151.2,1133.0 1151.5,1169.0 1152.2,1193.0 1153.0,1217.1 1154.2,1241.1 1154.8,1271.1 1155.8,1301.1 1155.7,1290.0 1156.0,1328.4 1156.6,1353.9 1157.5,1379.5 1159.2,1384.6 1159.8,1411.5 1160.8,1443.5 1162.4,1481.8 1164.7,1519.5 1165.7,1469.0 1166.6,1417.9 1167.6,1393.6 1169.1,1430.7 1170.4,1460.7 1171.7,1417.9 1172.7,1387.2 1174.3,1417.9 1174.9,1434.5 1175.8,1379.5 1176.3,1341.2 1177.1,1327.7 1178.7,1341.2 1180.4,1361.6 1182.2,1374.4 1183.5,1394.9 1184.0,1430.7 1184.1,1488.8 1185.3,1430.7 1186.4,1379.5 1187.3,1347.5 1188.1,1327.1 1189.6,1315.6 1191.8,1300.9 1192.2,1328.4 1192.7,1362.3 1194.1,1351.4 1195.4,1328.4 1197.3,1322.0 1197.3,1309.2 1198.0,1297.7 1197.8,1289.1 1199.0,1259.1 1200.2,1235.1 1201.4,1211.1 1202.6,1193.0 1204.2,1169.0 1205.4,1151.0 1206.8,1133.0 1207.4,1109.0 1208.3,1098.8 1209.8,1098.8 1210.4,1133.0 1210.7,1169.0 1211.4,1193.0 1212.2,1217.1 1213.4,1241.1 1214.0,1271.1 1215.0,1301.1 1214.9,1290.0 1215.2,1328.4 1215.8,1353.9 1216.7,1379.5 1218.4,1384.6 1219.0,1411.5 1220.0,1443.5 1221.6,1481.8 1223.9,1519.5 1224.9,1469.0 1225.8,1417.9 1226.8,1393.6 1228.3,1430.7 1229.6,1460.7 1230.9,1417.9 1231.9,1387.2 1233.5,1417.9 1234.1,1434.5 1235.0,1379.5 1235.5,1341.2 1236.3,1327.7 1237.9,1341.2 1239.6,1361.6 1241.4,1374.4 1242.7,1394.9 1243.2,1430.7 1243.3,1488.8 1244.5,1430.7 1245.6,1379.5 1246.5,1347.5 1247.3,1327.1 1248.8,1315.6 1251.0,1300.9 1251.4,1328.4 1251.9,1362.3 1253.3,1351.4 1254.6,1328.4 1256.5,1322.0 1256.5,1309.2 1257.2,1297.7 1257.0,1289.1 1258.2,1259.1 1259.4,1235.1 1260.6,1211.1 1261.8,1193.0 1263.4,1169.0 1264.6,1151.0 1266.0,1133.0 1266.6,1109.0 1267.5,1098.8 1269.0,1098.8 1269.6,1133.0 1269.9,1169.0 1270.6,1193.0 1271.4,1217.1 1272.6,1241.1 1273.2,1271.1 1274.2,1301.1 1274.1,1290.0 1274.4,1328.4 1275.0,1353.9 1275.9,1379.5 1277.6,1384.6 1278.2,1411.5 1279.2,1443.5 1280.8,1481.8 1283.1,1519.5 1284.1,1469.0 1285.0,1417.9 1286.0,1393.6 1287.5,1430.7 1288.8,1460.7 1290.1,1417.9 1291.1,1387.2 1292.7,1417.9 1293.3,1434.5 1294.2,1379.5 1294.7,1341.2 1295.5,1327.7 1297.1,1341.2 1298.8,1361.6 1300.6,1374.4 1301.9,1394.9 1302.4,1430.7 1302.5,1488.8 1303.7,1430.7 1304.8,1379.5 1305.7,1347.5 1306.5,1327.1 1308.0,1315.6 1310.2,1300.9 1310.6,1328.4 1311.1,1362.3 1312.5,1351.4 1313.8,1328.4 1315.7,1322.0 1315.7,1309.2 1316.4,1297.7 1316.2,1289.1 1317.4,1259.1 1318.6,1235.1 1319.8,1211.1 1321.0,1193.0 1322.6,1169.0 1323.8,1151.0 1325.2,1133.0 1325.8,1109.0 1326.7,1098.8 1328.2,1098.8 1328.8,1133.0 1329.1,1169.0 1329.8,1193.0 1330.6,1217.1 1331.8,1241.1 1332.4,1271.1 1333.4,1301.1 1333.3,1290.0 1333.6,1328.4 1334.2,1353.9 1335.1,1379.5 1336.8,1384.6 1337.4,1411.5 1338.4,1443.5 1340.0,1481.8 1342.3,1519.5 1343.3,1469.0 1344.2,1417.9 1345.2,1393.6 1346.7,1430.7 1348.0,1460.7 1349.3,1417.9 1350.3,1387.2 1351.9,1417.9 1352.5,1434.5 1353.4,1379.5 1353.9,1341.2 1354.7,1327.7 1356.3,1341.2 1358.0,1361.6 1359.8,1374.4 1361.1,1394.9 1361.6,1430.7 1361.7,1488.8 1362.9,1430.7 1364.0,1379.5 1364.9,1347.5 1365.7,1327.1 1367.2,1315.6 1369.4,1300.9 1369.8,1328.4 1370.3,1362.3 1371.7,1351.4 1373.0,1328.4 1374.9,1322.0 1374.9,1309.2 1375.6,1297.7 1375.4,1289.1 1376.6,1259.1 1377.8,1235.1 1379.0,1211.1 1380.2,1193.0 1381.8,1169.0 1383.0,1151.0 1384.4,1133.0 1385.0,1109.0 1385.9,1098.8 1387.4,1098.8 1388.0,1133.0 1388.3,1169.0 1389.0,1193.0 1389.8,1217.1 1391.0,1241.1 1391.6,1271.1 1392.6,1301.1 1392.5,1290.0 1392.8,1328.4 1393.4,1353.9 1394.3,1379.5 1396.0,1384.6 1396.6,1411.5 1397.6,1443.5 1399.2,1481.8 1401.5,1519.5 1402.5,1469.0 1403.4,1417.9 1404.4,1393.6 1405.9,1430.7 1407.2,1460.7 1408.5,1417.9 1409.5,1387.2 1411.1,1417.9 1411.7,1434.5 1412.6,1379.5 1413.1,1341.2 1413.9,1327.7 1415.5,1341.2 1417.2,1361.6 1419.0,1374.4 1420.3,1394.9 1420.8,1430.7 1420.9,1488.8 1422.1,1430.7 1423.2,1379.5 1424.1,1347.5 1424.9,1327.1 1426.4,1315.6 1428.6,1300.9 1429.0,1328.4 1429.5,1362.3 1430.9,1351.4 1432.2,1328.4 1434.1,1322.0 1434.1,1309.2 1434.8,1297.7 1434.6,1289.1 1435.8,1259.1 1437.0,1235.1 1438.2,1211.1 1439.4,1193.0 1441.0,1169.0 1442.2,1151.0 1443.6,1133.0 1444.2,1109.0 1445.1,1098.8 1446.6,1098.8 1447.2,1133.0 1447.5,1169.0 1448.2,1193.0 1449.0,1217.1 1450.2,1241.1 1450.8,1271.1 1451.8,1301.1 1451.7,1290.0 1452.0,1328.4 1452.6,1353.9 1453.5,1379.5 1455.2,1384.6 1455.8,1411.5 1456.8,1443.5 1458.4,1481.8 1460.7,1519.5 1461.7,1469.0 1462.6,1417.9 1463.6,1393.6 1465.1,1430.7 1466.4,1460.7 1467.7,1417.9 1468.7,1387.2 1470.3,1417.9 1470.9,1434.5 1471.8,1379.5 1472.3,1341.2 1473.1,1327.7 1474.7,1341.2 1476.4,1361.6 1478.2,1374.4 1479.5,1394.9 1480.0,1430.7 1480.1,1488.8 1481.3,1430.7 1482.4,1379.5 1483.3,1347.5 1484.1,1327.1 1485.6,1315.6 1487.8,1300.9 1488.2,1328.4 1488.7,1362.3 1490.1,1351.4 1491.4,1328.4 1493.3,1322.0 1493.3,1309.2 1494.0,1297.7 1493.8,1289.1 1495.0,1259.1 1496.2,1235.1 1497.4,1211.1 1498.6,1193.0 1500.2,1169.0 1501.4,1151.0 1502.8,1133.0 1503.4,1109.0 1504.3,1098.8 1505.8,1098.8 1506.4,1133.0 1506.7,1169.0 1507.4,1193.0 1508.2,1217.1 1509.4,1241.1 1510.0,1271.1 1511.0,1301.1 1510.9,1290.0 1511.2,1328.4 1511.8,1353.9 1512.7,1379.5 1514.4,1384.6 1515.0,1411.5 1516.0,1443.5 1517.6,1481.8 1519.9,1519.5 1520.9,1469.0 1521.8,1417.9 1522.8,1393.6 1524.3,1430.7 1525.6,1460.7 1526.9,1417.9 1527.9,1387.2 1529.5,1417.9 1530.1,1434.5 1531.0,1379.5 1531.5,1341.2 1532.3,1327.7 1533.9,1341.2 1535.6,1361.6 1537.4,1374.4 1538.7,1394.9 1539.2,1430.7 1539.3,1488.8 1540.5,1430.7 1541.6,1379.5 1542.5,1347.5 1543.3,1327.1 1544.8,1315.6 1547.0,1300.9 1547.4,1328.4 1547.9,1362.3 1549.3,1351.4 1550.6,1328.4 1552.5,1322.0 1552.5,1309.2 1553.2,1297.7 1553.0,1289.1 1554.2,1259.1 1555.4,1235.1 1556.6,1211.1 1557.8,1193.0 1559.4,1169.0 1560.6,1151.0 1562.0,1133.0 1562.6,1109.0 1563.5,1098.8 1565.0,1098.8 1565.6,1133.0 1565.9,1169.0 1566.6,1193.0 1567.4,1217.1 1568.6,1241.1 1569.2,1271.1 1570.2,1301.1 1570.1,1290.0 1570.4,1328.4 1571.0,1353.9 1571.9,1379.5 1573.6,1384.6 1574.2,1411.5 1575.2,1443.5 1576.8,1481.8 1579.1,1519.5 1580.1,1469.0 1581.0,1417.9 1582.0,1393.6 1583.5,1430.7 1584.8,1460.7 1586.1,1417.9 1587.1,1387.2 1588.7,1417.9 1589.3,1434.5 1590.2,1379.5 1590.7,1341.2 1591.5,1327.7 1593.1,1341.2 1594.8,1361.6 1596.6,1374.4 1597.9,1394.9 1598.4,1430.7 1598.5,1488.8 1599.7,1430.7 1600.8,1379.5 1601.7,1347.5 1602.5,1327.1 1604.0,1315.6 1606.2,1300.9 1606.6,1328.4 1607.1,1362.3 1608.5,1351.4 1609.8,1328.4 1611.7,1322.0 1611.7,1309.2 1612.4,1297.7 1612.2,1289.1 1613.4,1259.1 1614.6,1235.1 1615.8,1211.1 1617.0,1193.0 1618.6,1169.0 1619.8,1151.0 1621.2,1133.0 1621.8,1109.0 1622.7,1098.8 1624.2,1098.8 1624.8,1133.0 1625.1,1169.0 1625.8,1193.0 1626.6,1217.1 1627.8,1241.1 1628.4,1271.1 1629.4,1301.1 1629.3,1290.0 1629.6,1328.4 1630.2,1353.9 1631.1,1379.5 1632.8,1384.6 1633.4,1411.5 1634.4,1443.5 1636.0,1481.8 1638.3,1519.5 1639.3,1469.0 1640.2,1417.9 1641.2,1393.6 1642.7,1430.7 1644.0,1460.7 1645.3,1417.9 1646.3,1387.2 1647.9,1417.9 1648.5,1434.5 1649.4,1379.5 1649.9,1341.2 1650.7,1327.7 1652.3,1341.2 1654.0,1361.6 1655.8,1374.4 1657.1,1394.9 1657.6,1430.7 1657.7,1488.8 1658.9,1430.7 1660.0,1379.5 1660.9,1347.5 1661.7,1327.1 1663.2,1315.6 1665.4,1300.9 1665.8,1328.4 1666.3,1362.3 1667.7,1351.4 1669.0,1328.4 1670.9,1322.0 1670.9,1309.2 1671.6,1297.7 1671.4,1289.1 1672.6,1259.1 1673.8,1235.1 1675.0,1211.1 1676.2,1193.0 1677.8,1169.0 1679.0,1151.0 1680.4,1133.0 1681.0,1109.0 1681.9,1098.8 1683.4,1098.8 1684.0,1133.0 1684.3,1169.0 1685.0,1193.0 1685.8,1217.1 1687.0,1241.1 1687.6,1271.1 1688.6,1301.1 1688.5,1290.0 1688.8,1328.4 1689.4,1353.9 1690.3,1379.5 1692.0,1384.6 1692.6,1411.5 1693.6,1443.5 1695.2,1481.8 1697.5,1519.5 1698.5,1469.0 1699.4,1417.9 1700.4,1393.6 1701.9,1430.7 1703.2,1460.7 1704.5,1417.9 1705.5,1387.2 1707.1,1417.9 1707.7,1434.5 1708.6,1379.5 1709.1,1341.2 1709.9,1327.7 1711.5,1341.2 1713.2,1361.6 1715.0,1374.4 1716.3,1394.9 1716.8,1430.7 1716.9,1488.8 1718.1,1430.7 1719.2,1379.5 1720.1,1347.5 1720.9,1327.1 1722.4,1315.6 1724.6,1300.9 1725.0,1328.4 1725.5,1362.3 1726.9,1351.4 1728.2,1328.4 1730.1,1322.0 1730.1,1309.2 1730.8,1297.7 1730.6,1289.1 1731.8,1259.1 1733.0,1235.1 1734.2,1211.1 1735.4,1193.0 1737.0,1169.0 1738.2,1151.0 1739.6,1133.0 1740.2,1109.0 1741.1,1098.8 1742.6,1098.8 1743.2,1133.0 1743.5,1169.0 1744.2,1193.0 1745.0,1217.1 1746.2,1241.1 1746.8,1271.1 1747.8,1301.1 1747.7,1290.0 1748.0,1328.4 1748.6,1353.9 1749.5,1379.5 1751.2,1384.6 1751.8,1411.5 1752.8,1443.5 1754.4,1481.8 1756.7,1519.5 1757.7,1469.0 1758.6,1417.9 1759.6,1393.6 1761.1,1430.7 1762.4,1460.7 1763.7,1417.9 1764.7,1387.2 1766.3,1417.9 1766.9,1434.5 1767.8,1379.5 1768.3,1341.2 1769.1,1327.7 1770.7,1341.2 1772.4,1361.6 1774.2,1374.4 1775.5,1394.9 1776.0,1430.7 1776.1,1488.8 1777.3,1430.7 1778.4,1379.5 1779.3,1347.5 1780.1,1327.1 1781.6,1315.6 1783.8,1300.9 1784.2,1328.4 1784.7,1362.3 1786.1,1351.4 1787.4,1328.4 1789.3,1322.0 1789.3,1309.2 1790.0,1297.7 1789.8,1289.1 1791.0,1259.1 1792.2,1235.1 1793.4,1211.1 1794.6,1193.0 1796.2,1169.0 1797.4,1151.0 1798.8,1133.0 1799.4,1109.0 1800.3,1098.8 1801.8,1098.8 1802.4,1133.0 1802.7,1169.0 1803.4,1193.0 1804.2,1217.1 1805.4,1241.1 1806.0,1271.1 1807.0,1301.1 1806.9,1290.0 1807.2,1328.4 1807.8,1353.9 1808.7,1379.5 1810.4,1384.6 1811.0,1411.5 1812.0,1443.5 1813.6,1481.8 1815.9,1519.5 1816.9,1469.0 1817.8,1417.9 1818.8,1393.6 1820.3,1430.7 1821.6,1460.7 1822.9,1417.9 1823.9,1387.2 1825.5,1417.9 1826.1,1434.5 1827.0,1379.5 1827.5,1341.2 1828.3,1327.7 1829.9,1341.2 1831.6,1361.6 1833.4,1374.4 1834.7,1394.9 1835.2,1430.7 1835.3,1488.8 1836.5,1430.7 1837.6,1379.5 1838.5,1347.5 1839.3,1327.1 1840.8,1315.6 1843.0,1300.9 1843.4,1328.4 1843.9,1362.3 1845.3,1351.4 1846.6,1328.4 1848.5,1322.0 1848.5,1309.2 1849.2,1297.7 1849.0,1289.1 1850.2,1259.1 1851.4,1235.1 1852.6,1211.1 1853.8,1193.0 1855.4,1169.0 1856.6,1151.0 1858.0,1133.0 1858.6,1109.0 1859.5,1098.8 1861.0,1098.8 1861.6,1133.0 1861.9,1169.0 1862.6,1193.0 1863.4,1217.1 1864.6,1241.1 1865.2,1271.1 1866.2,1301.1 1866.1,1290.0 1866.4,1328.4 1867.0,1353.9 1867.9,1379.5 1869.6,1384.6 1870.2,1411.5 1871.2,1443.5 1872.8,1481.8 1875.1,1519.5 1876.1,1469.0 1877.0,1417.9 1878.0,1393.6 1879.5,1430.7 1880.8,1460.7 1882.1,1417.9 1883.1,1387.2 1884.7,1417.9 1885.3,1434.5 1886.2,1379.5 1886.7,1341.2 1887.5,1327.7 1889.1,1341.2 1890.8,1361.6 1892.6,1374.4 1893.9,1394.9 1894.4,1430.7 1894.5,1488.8 1895.7,1430.7 1896.8,1379.5 1897.7,1347.5 1898.5,1327.1 1900.0,1315.6 1902.2,1300.9 1902.6,1328.4 1903.1,1362.3 1904.5,1351.4 1905.8,1328.4 1907.7,1322.0 1907.7,1309.2 1908.4,1297.7 1908.2,1289.1 1909.4,1259.1 1910.6,1235.1 1911.8,1211.1 1913.0,1193.0 1914.6,1169.0 1915.8,1151.0 1917.2,1133.0 1917.8,1109.0 1918.7,1098.8 1920.2,1098.8 1920.8,1133.0 1921.1,1169.0 1921.8,1193.0 1922.6,1217.1 1923.8,1241.1 1924.4,1271.1 1925.4,1301.1 1925.3,1290.0 1925.6,1328.4 1926.2,1353.9 1927.1,1379.5 1928.8,1384.6 1929.4,1411.5 1930.4,1443.5 1932.0,1481.8 1934.3,1519.5 1935.3,1469.0 1936.2,1417.9 1937.2,1393.6 1938.7,1430.7 1940.0,1460.7 1941.3,1417.9 1942.3,1387.2 1943.9,1417.9 1944.5,1434.5 1945.4,1379.5 1945.9,1341.2 1946.7,1327.7 1948.3,1341.2 1950.0,1361.6 1951.8,1374.4 1953.1,1394.9 1953.6,1430.7 1953.7,1488.8 1954.9,1430.7 1956.0,1379.5 1956.9,1347.5 1957.7,1327.1 1959.2,1315.6 1961.4,1300.9 1961.8,1328.4 1962.3,1362.3 1963.7,1351.4 1965.0,1328.4 1966.9,1322.0 1966.9,1309.2 1967.6,1297.7 1967.4,1289.1 1968.6,1259.1 1969.8,1235.1 1971.0,1211.1 1972.2,1193.0 1973.8,1169.0 1975.0,1151.0 1976.4,1133.0 1977.0,1109.0 1977.9,1098.8 1979.4,1098.8 1980.0,1133.0 1980.3,1169.0 1981.0,1193.0 1981.8,1217.1 1983.0,1241.1 1983.6,1271.1 1984.6,1301.1 1984.5,1290.0 1984.8,1328.4 1985.4,1353.9 1986.3,1379.5 1988.0,1384.6 1988.6,1411.5 1989.6,1443.5 1991.2,1481.8 1993.5,1519.5 1994.5,1469.0 1995.4,1417.9 1996.4,1393.6 1997.9,1430.7 1999.2,1460.7 2000.5,1417.9 2001.5,1387.2 2003.1,1417.9 2003.7,1434.5 2004.6,1379.5 2005.1,1341.2 2005.9,1327.7 2007.5,1341.2 2009.2,1361.6 2011.0,1374.4 2012.3,1394.9 2012.8,1430.7 2012.9,1488.8 2014.1,1430.7 2015.2,1379.5 2016.1,1347.5 2016.9,1327.1 2018.4,1315.6 2020.6,1300.9 2021.0,1328.4 2021.5,1362.3 2022.9,1351.4 2024.2,1328.4 2026.1,1322.0 2026.1,1309.2 2026.8,1297.7 2026.6,1289.1 2027.8,1259.1 2029.0,1235.1 2030.2,1211.1 2031.4,1193.0 2033.0,1169.0 2034.2,1151.0 2035.6,1133.0 2036.2,1109.0 2037.1,1098.8 2038.6,1098.8 2039.2,1133.0 2039.5,1169.0 2040.2,1193.0 2041.0,1217.1 2042.2,1241.1 2042.8,1271.1 2043.8,1301.1 2043.7,1290.0 2044.0,1328.4 2044.6,1353.9 2045.5,1379.5 2047.2,1384.6 2047.8,1411.5 2048.8,1443.5 2050.4,1481.8 2052.7,1519.5 2053.7,1469.0 2054.6,1417.9 2055.6,1393.6 2057.1,1430.7 2058.4,1460.7 2059.7,1417.9 2060.7,1387.2 2062.3,1417.9 2062.9,1434.5 2063.8,1379.5 2064.3,1341.2 2065.1,1327.7 2066.7,1341.2 2068.4,1361.6 2070.2,1374.4 2071.5,1394.9 2072.0,1430.7 2072.1,1488.8 2073.3,1430.7 2074.4,1379.5 2075.3,1347.5 2076.1,1327.1 2077.6,1315.6 2079.8,1300.9 2080.2,1328.4 2080.7,1362.3 2082.1,1351.4 2083.4,1328.4 2085.3,1322.0 2085.3,1309.2 2086.0,1297.7 2085.8,1289.1 2087.0,1259.1 2088.2,1235.1 2089.4,1211.1 2090.6,1193.0 2092.2,1169.0 2093.4,1151.0 2094.8,1133.0 2095.4,1109.0 2096.3,1098.8 2097.8,1098.8 2098.4,1133.0 2098.7,1169.0 2099.4,1193.0 2100.2,1217.1 2101.4,1241.1 2102.0,1271.1 2103.0,1301.1 2102.9,1290.0 2103.2,1328.4 2103.8,1353.9 2104.7,1379.5 2106.4,1384.6 2107.0,1411.5 2108.0,1443.5 2109.6,1481.8 2111.9,1519.5 2112.9,1469.0 2113.8,1417.9 2113.8,1417.6"/>
<polyline class="ln" stroke-width="4.7" shape-rendering="crispEdges" points="308.8,1857.2 309.1,1797.3 309.8,1748.0 311.2,1773.9 312.6,1741.0 314.0,1731.6 315.4,1773.9 316.8,1757.4 317.8,1795.0 319.2,1785.6 320.6,1829.0 322.2,1818.5 323.9,1785.6 325.3,1750.4 327.2,1738.6 328.6,1762.1 330.5,1759.8 331.9,1724.5 333.7,1719.8 335.2,1689.3 336.6,1663.5 338.4,1637.6 339.8,1616.5 341.5,1598.9 343.1,1628.2 344.5,1656.4 346.4,1670.5 347.4,1679.9 348.8,1708.1 350.2,1675.2 352.1,1691.7 353.5,1717.5 354.4,1738.6 355.8,1762.1 356.8,1797.3 357.7,1832.6 358.6,1867.8 359.6,1914.8 360.5,1950.0 361.5,1968.8 362.4,1914.8 363.3,1856.1 364.3,1832.6 365.7,1827.9 367.1,1797.3 368.5,1750.4 369.9,1728.1 371.3,1804.4 372.7,1750.4 374.4,1823.2 375.5,1745.7 377.0,1795.0 378.4,1738.6 380.2,1726.9 382.1,1708.1 383.5,1733.9 384.9,1752.7 385.9,1679.9 387.3,1641.2 388.7,1703.4 390.6,1675.2 392.0,1757.4 393.4,1703.4 395.3,1689.3 396.7,1738.6 398.6,1731.6 400.0,1764.5 401.9,1750.4 403.7,1737.4 405.1,1785.6 407.0,1778.5 408.9,1797.3 410.8,1795.0 412.7,1776.2 414.1,1820.8 415.5,1832.6 417.4,1797.3 418.8,1759.8 420.2,1785.6 421.1,1820.8 422.5,1762.1 423.9,1733.9 425.8,1684.6 427.7,1656.4 429.6,1625.9 431.4,1665.8 432.9,1694.0 434.7,1670.5 436.1,1703.4 438.0,1722.2 439.9,1726.9 441.8,1716.3 443.2,1771.5 445.5,1755.1 446.9,1797.3 448.4,1820.8 449.8,1849.0 451.6,1839.6 453.0,1877.2 454.5,1809.1 456.3,1762.1 458.2,1844.3 459.6,1869.0 461.0,1769.2 462.9,1816.1 464.3,1755.1 466.7,1752.7 468.1,1805.6 469.5,1773.9 470.7,1726.9 471.4,1702.2 472.8,1750.4 474.2,1785.6 476.1,1859.6 477.5,1797.3 479.4,1780.9 480.8,1820.8 482.4,1865.4 483.6,1797.3 485.0,1752.7 486.9,1773.9 488.3,1726.9 489.7,1684.6 491.6,1661.1 493.2,1635.3 494.9,1675.2 496.7,1640.0 499.1,1640.0 500.5,1698.7 501.9,1672.9 503.3,1717.5 505.2,1743.3 506.6,1773.9 508.5,1797.3 509.9,1837.3 511.8,1797.3 513.6,1839.6 515.0,1825.5 516.5,1842.0 518.3,1891.3 519.7,1867.8 521.2,1842.0 523.0,1832.6 524.9,1842.0 526.3,1825.5 527.7,1765.6 529.1,1809.1 530.5,1771.5 532.4,1820.8 533.8,1771.5 535.2,1832.6 537.1,1854.9 538.5,1797.3 539.9,1766.8 540.0,1766.8 541.9,1797.3 544.2,1836.1 545.6,1797.3 547.0,1755.1 548.9,1783.2 550.3,1741.0 551.3,1712.8 552.2,1681.1 553.6,1750.4 555.5,1745.7 556.9,1712.8 558.3,1682.3 560.2,1683.4 561.6,1752.7 563.0,1715.1 564.9,1752.7 566.3,1722.2 568.2,1726.9 569.6,1773.9 571.0,1820.8 572.4,1856.1 575.2,1858.4 576.2,1820.8 576.6,1726.9 577.1,1670.5 578.5,1703.4 579.9,1759.8 581.3,1726.9 582.7,1779.7 584.6,1738.6 586.5,1745.7 588.4,1773.9 589.8,1750.4 591.2,1810.3 593.1,1750.4 594.5,1759.8 595.9,1708.1 597.8,1757.4 599.2,1689.3 600.6,1687.0 602.0,1731.6 603.4,1679.9 605.3,1736.3 607.2,1684.6 609.0,1724.5 610.9,1679.9 612.8,1675.2 614.2,1648.2 616.6,1654.1 617.0,1703.4 617.5,1764.5 619.4,1773.9 620.8,1804.4 622.7,1780.9 624.1,1806.7 625.0,1750.4 626.4,1735.1 627.8,1773.9 629.2,1750.4 630.7,1785.6 631.6,1819.6 633.0,1737.4 634.4,1783.2 635.8,1750.4 637.2,1797.3 638.2,1832.6 639.6,1863.1 641.0,1832.6 641.9,1926.5 642.9,1961.7 644.3,1926.5 645.7,1851.4 647.6,1926.5 649.0,1832.6 650.4,1844.3 651.8,1867.8 653.7,1876.0 655.1,1820.8 656.5,1770.3 657.9,1844.3 659.8,1863.1 661.2,1779.7 663.1,1778.5 664.5,1833.7 665.9,1773.9 667.3,1816.1 668.2,1748.0 670.6,1769.2 672.0,1776.2 673.9,1731.6 676.2,1750.4 677.6,1724.5 679.5,1722.2 680.9,1703.4 682.3,1670.5 683.7,1661.1 685.6,1642.3 687.0,1677.6 688.9,1661.1 690.3,1694.0 692.2,1689.3 694.1,1730.4 695.5,1701.0 697.4,1729.2 699.7,1694.0 701.1,1730.4 703.0,1703.4 703.9,1731.6 705.3,1682.3 707.2,1679.9 709.1,1708.1 710.5,1671.7 711.9,1694.0 712.9,1750.4 713.8,1797.3 715.2,1832.6 716.6,1865.4 718.0,1827.9 719.9,1886.6 721.3,1856.1 722.7,1805.6 724.1,1844.3 725.5,1894.8 726.9,1820.8 727.4,1750.4 729.3,1743.3 730.7,1726.9 732.1,1706.9 733.5,1750.4 734.9,1785.6 736.3,1809.1 738.7,1769.2 740.1,1806.7 741.5,1804.4 742.4,1703.4 743.9,1656.4 745.7,1651.7 747.1,1703.4 748.5,1665.8 749.5,1762.1 751.4,1719.8 752.8,1806.7 754.2,1726.9 756.1,1773.9 757.5,1827.9 758.9,1773.9 760.3,1750.4 761.7,1744.5 763.1,1804.4 764.5,1752.7 765.9,1797.3 767.3,1844.3 769.2,1879.5 770.6,1813.8 772.0,1905.4 773.9,1908.9 774.9,1827.9 776.7,1884.2 778.1,1824.3 780.5,1887.8 781.9,1823.2 784.2,1837.3 785.7,1773.9 786.6,1763.3 788.5,1797.3 789.9,1785.6 791.8,1807.9 793.2,1766.8 795.5,1787.9 796.9,1750.4 798.3,1757.4 799.7,1724.5 801.6,1722.2 803.0,1764.5 804.4,1715.1 806.3,1712.8 808.2,1742.1 809.6,1679.9 812.0,1677.6 813.8,1717.5 815.2,1689.3 817.1,1712.8 818.5,1682.3 820.0,1684.6 821.9,1712.8 823.8,1726.9 826.1,1739.8 827.5,1705.7 829.4,1722.2 831.3,1703.4 832.7,1724.5 834.1,1689.3 835.5,1726.9 837.4,1712.8 838.8,1756.2 841.1,1717.5 842.5,1750.4 843.5,1780.9 844.9,1797.3 846.3,1809.1 847.2,1849.0 849.1,1816.1 850.5,1785.6 851.9,1770.3 853.3,1819.6 855.2,1797.3 856.6,1812.6 858.0,1758.6 859.9,1797.3 861.3,1748.0 862.7,1807.9 864.2,1773.9 865.6,1753.9 867.0,1797.3 868.4,1840.8 869.8,1797.3 871.2,1762.1 873.5,1759.8 875.0,1797.3 876.4,1831.4 877.8,1785.6 879.7,1797.3 881.5,1773.9 882.5,1717.5 883.9,1640.0 885.8,1609.5 888.1,1574.2 890.0,1583.6 891.4,1659.9 892.8,1621.2 894.7,1594.2 896.1,1651.7 897.0,1616.5 898.4,1656.4 899.8,1679.9 901.3,1712.8 903.1,1726.9 904.5,1764.5 906.0,1717.5 907.4,1719.8 908.3,1809.1 909.2,1844.3 910.7,1877.2 912.5,1844.3 913.9,1785.6 915.3,1778.5 916.8,1770.3 918.2,1797.3 919.6,1879.5 921.0,1832.6 922.4,1867.8 923.3,1914.8 924.7,1968.8 926.2,1914.8 927.6,1968.8 928.5,1844.3 929.4,1759.8 930.9,1773.9 932.3,1966.4 933.7,1891.3 935.1,1964.1 936.5,1891.3 937.9,1961.7 938.8,1809.1 940.2,1888.9 941.7,1779.7 943.1,1806.7 944.5,1792.6 945.9,1853.7 946.8,1797.3 947.8,1726.9 948.7,1661.1 950.1,1615.3 951.5,1656.4 952.5,1726.9 953.9,1773.9 955.3,1799.7 956.7,1827.9 958.1,1773.9 960.0,1836.1 961.4,1783.2 963.3,1825.5 965.1,1787.9 967.5,1844.3 968.9,1797.3 969.8,1698.7 972.2,1717.5 973.6,1694.0 975.0,1672.9 976.4,1726.9 977.8,1679.9 980.2,1732.8 981.6,1701.0 982.5,1649.4 983.9,1616.5 985.3,1569.5 986.3,1551.9 987.7,1602.4 988.6,1717.5 990.0,1670.5 991.9,1618.8 993.3,1712.8 994.7,1644.7 995.7,1750.4 997.5,1762.1 999.0,1797.3 1000.8,1773.9 1002.2,1820.8 1003.2,1914.8 1004.1,1972.3 1005.5,1938.2 1006.9,1824.3 1008.4,1881.9 1010.2,1825.5 1011.6,1827.9 1014.0,1884.2 1015.4,1844.3 1016.3,1708.1 1017.7,1661.1 1019.6,1652.9 1021.0,1712.8 1022.4,1732.8 1023.9,1672.9 1025.3,1708.1 1026.2,1651.7 1027.1,1609.5 1028.5,1703.4 1030.0,1649.4 1032.3,1647.0 1033.2,1725.7 1034.7,1682.3 1036.1,1750.4 1037.5,1773.9 1038.9,1818.5 1040.3,1797.3 1041.7,1844.3 1043.1,1891.3 1044.0,1968.8 1045.5,1914.8 1046.9,1811.4 1048.3,1756.2 1049.7,1844.3 1051.1,1891.3 1053.0,1893.6 1054.4,1844.3 1055.8,1790.3 1057.2,1831.4 1058.6,1752.7 1060.0,1832.6 1061.9,1768.0 1063.8,1853.7 1065.2,1797.3 1066.6,1854.9 1068.0,1797.3 1069.4,1877.2 1070.8,1773.9 1071.3,1692.8 1073.2,1694.0 1074.6,1731.6 1076.0,1687.0 1077.9,1749.2 1079.7,1674.0 1081.2,1736.3 1082.6,1703.4 1084.4,1745.7 1086.3,1733.9 1088.2,1762.1 1090.1,1750.4 1092.4,1790.3 1094.3,1773.9 1095.7,1733.9 1097.6,1722.2 1099.9,1691.7 1100.0,1691.7 1101.4,1722.2 1102.8,1778.5 1104.2,1733.9 1106.1,1750.4 1107.5,1787.9 1109.4,1773.9 1110.8,1799.7 1112.7,1764.5 1114.6,1790.3 1116.4,1783.2 1118.3,1750.4 1119.7,1785.6 1121.1,1743.3 1122.5,1797.3 1124.0,1745.7 1125.8,1773.9 1127.2,1738.6 1128.2,1791.5 1129.1,1717.5 1130.1,1679.9 1131.0,1654.1 1132.4,1731.6 1133.8,1684.6 1135.2,1770.3 1137.1,1699.9 1138.5,1750.4 1139.9,1780.9 1141.3,1743.3 1142.7,1743.3 1144.2,1773.9 1145.6,1804.4 1147.4,1780.9 1149.3,1805.6 1150.7,1757.4 1152.6,1764.5 1154.5,1741.0 1156.4,1759.8 1157.3,1729.2 1159.2,1757.4 1160.6,1703.4 1162.0,1694.0 1163.4,1724.5 1164.8,1698.7 1166.7,1729.2 1168.1,1701.0 1170.0,1687.0 1171.4,1730.4 1173.3,1703.4 1175.2,1701.0 1177.0,1710.4 1178.9,1752.7 1180.3,1726.9 1181.7,1741.0 1182.7,1691.7 1184.1,1679.9 1185.5,1715.1 1187.4,1698.7 1188.8,1722.2 1190.7,1726.9 1192.1,1759.8 1193.5,1785.6 1194.9,1804.4 1196.8,1797.3 1198.2,1844.3 1199.6,1849.0 1201.0,1856.1 1202.4,1825.5 1204.3,1839.6 1206.2,1819.6 1207.6,1879.5 1209.0,1891.3 1210.4,1842.0 1211.8,1914.8 1212.7,1947.6 1214.1,1877.2 1215.1,1797.3 1216.0,1856.1 1217.4,1785.6 1218.4,1726.9 1219.3,1705.7 1220.7,1750.4 1221.7,1839.6 1222.6,1719.8 1223.5,1891.3 1224.5,1953.5 1225.9,1891.3 1226.8,1766.8 1228.2,1881.9 1229.6,1804.4 1231.0,1726.9 1232.9,1795.0 1233.9,1656.4 1234.8,1632.9 1236.2,1698.7 1238.1,1635.3 1239.5,1670.5 1240.9,1703.4 1241.9,1656.4 1243.3,1617.7 1245.1,1665.8 1246.5,1632.9 1248.4,1628.2 1249.4,1668.2 1250.3,1712.8 1252.2,1731.6 1254.1,1710.4 1255.9,1768.0 1257.4,1731.6 1258.8,1698.7 1260.6,1731.6 1262.5,1694.0 1264.4,1688.1 1265.8,1730.4 1267.7,1694.0 1269.6,1724.5 1271.0,1780.9 1271.9,1832.6 1273.3,1851.4 1274.7,1886.6 1276.1,1924.2 1277.5,1972.3 1279.0,1938.2 1280.4,1914.8 1281.8,1879.5 1283.2,1874.8 1284.6,1896.0 1286.0,1891.3 1287.4,1844.3 1288.4,1799.7 1290.2,1797.3 1291.6,1771.5 1293.5,1795.0 1294.9,1750.4 1296.3,1679.9 1298.2,1661.1 1299.6,1719.8 1301.0,1675.2 1302.9,1762.1 1304.3,1722.2 1306.7,1684.6 1308.1,1750.4 1309.5,1773.9 1310.9,1797.3 1312.8,1819.6 1314.7,1771.5 1316.1,1807.9 1317.9,1790.3 1319.8,1766.8 1322.2,1802.0 1323.6,1773.9 1325.5,1766.8 1327.3,1778.5 1329.2,1791.5 1330.6,1773.9 1332.5,1738.6 1334.4,1771.5 1336.3,1717.5 1338.1,1743.3 1340.0,1745.7 1341.4,1663.5 1343.3,1723.4 1344.7,1661.1 1347.1,1657.6 1348.5,1661.1 1349.9,1726.9 1351.8,1759.8 1353.2,1738.6 1355.0,1684.6 1356.9,1712.8 1358.3,1670.5 1360.2,1668.2 1361.6,1715.1 1363.0,1742.1 1364.9,1708.1 1366.8,1704.6 1368.2,1745.7 1369.1,1773.9 1370.5,1804.4 1372.0,1832.6 1372.9,1867.8 1373.8,1946.5 1375.7,1946.5 1377.1,1914.8 1378.1,1858.4 1379.9,1838.4 1380.0,1867.8 1381.9,1865.4 1383.3,1832.6 1384.7,1792.6 1386.1,1731.6 1387.5,1679.9 1388.9,1642.3 1389.9,1602.4 1393.2,1601.2 1394.1,1632.9 1395.0,1684.6 1396.9,1753.9 1398.3,1684.6 1399.7,1691.7 1401.1,1668.2 1403.5,1670.5 1404.4,1726.9 1405.8,1759.8 1407.7,1745.7 1409.1,1708.1 1410.5,1703.4 1411.9,1750.4 1412.9,1773.9 1414.3,1816.1 1416.2,1818.5 1417.6,1783.2 1419.5,1820.8 1421.1,1837.3 1422.7,1797.3 1423.7,1715.1 1425.6,1741.0 1427.0,1670.5 1428.8,1641.2 1430.3,1679.9 1431.7,1708.1 1433.5,1710.4 1435.0,1750.4 1436.4,1773.9 1437.8,1799.7 1439.7,1773.9 1441.1,1755.1 1442.5,1797.3 1443.9,1820.8 1445.3,1831.4 1447.2,1804.4 1448.6,1816.1 1450.0,1795.0 1451.4,1825.5 1452.8,1797.3 1453.7,1726.9 1455.6,1743.3 1457.0,1703.4 1458.4,1692.8 1459.8,1738.6 1461.3,1703.4 1462.7,1750.4 1464.1,1776.2 1466.0,1738.6 1467.4,1755.1 1468.8,1701.0 1471.6,1694.0 1473.0,1738.6 1474.4,1773.9 1475.8,1783.2 1477.7,1743.3 1479.1,1731.6 1480.5,1824.3 1482.4,1766.8 1484.3,1809.1 1486.2,1773.9 1488.0,1823.2 1489.4,1750.4 1490.4,1732.8 1491.8,1809.1 1493.2,1755.1 1495.1,1831.4 1497.0,1760.9 1498.8,1818.5 1500.7,1816.1 1502.1,1766.8 1504.0,1797.3 1505.9,1764.5 1507.8,1759.8 1509.2,1812.6 1511.0,1773.9 1512.5,1806.7 1513.9,1755.1 1516.2,1812.6 1518.1,1773.9 1519.5,1759.8 1521.4,1787.9 1523.3,1778.5 1525.1,1745.7 1527.0,1773.9 1528.4,1724.5 1530.3,1764.5 1532.2,1722.2 1533.6,1795.0 1535.0,1719.8 1536.9,1705.7 1538.3,1797.3 1540.2,1766.8 1542.0,1726.9 1543.9,1750.4 1545.8,1703.4 1547.2,1764.5 1549.1,1726.9 1551.0,1764.5 1553.3,1777.4 1555.2,1750.4 1557.1,1773.9 1558.5,1745.7 1560.4,1771.5 1562.2,1750.4 1564.1,1769.2 1566.0,1743.3 1567.9,1765.6 1569.8,1738.6 1571.6,1759.8 1573.5,1717.5 1575.4,1743.3 1577.3,1712.8 1579.2,1733.9 1581.0,1704.6 1582.4,1738.6 1584.3,1759.8 1586.2,1741.0 1588.1,1769.2 1590.4,1743.3 1592.8,1779.7 1594.7,1736.3 1596.1,1764.5 1597.5,1718.7 1599.4,1750.4 1601.2,1779.7 1603.1,1750.4 1605.0,1741.0 1606.9,1773.9 1608.7,1795.0 1610.6,1759.8 1612.5,1773.9 1613.9,1738.6 1615.8,1773.9 1617.7,1787.9 1619.5,1771.5 1621.4,1797.3 1623.3,1773.9 1625.2,1752.7 1627.1,1778.5 1628.5,1741.0 1630.4,1726.9 1631.8,1778.5 1633.6,1784.4 1635.0,1719.8 1636.5,1773.9 1638.3,1731.6 1639.7,1776.2 1641.6,1738.6 1643.5,1771.5 1645.4,1738.6 1647.3,1725.7 1649.1,1750.4 1651.0,1738.6 1652.9,1750.4 1654.8,1771.5 1656.7,1773.9 1658.1,1722.2 1659.9,1745.7 1660.0,1745.7 1661.4,1698.7 1663.3,1745.7 1665.2,1710.4 1667.0,1748.0 1668.9,1726.9 1670.8,1769.2 1672.7,1797.3 1674.6,1817.3 1676.0,1750.4 1676.9,1708.1 1678.8,1703.4 1680.2,1750.4 1682.1,1745.7 1683.5,1764.5 1684.9,1785.6 1686.3,1802.0 1688.7,1799.7 1690.5,1813.8 1692.4,1832.6 1694.3,1844.3 1696.2,1879.5 1698.0,1870.1 1699.5,1816.1 1701.3,1811.4 1703.2,1845.5 1705.1,1785.6 1707.0,1813.8 1708.8,1764.5 1710.7,1804.4 1712.1,1741.0 1714.5,1739.8 1716.4,1797.3 1717.8,1726.9 1718.7,1684.6 1719.7,1651.7 1721.1,1649.4 1722.9,1703.4 1724.8,1663.5 1726.7,1712.8 1728.6,1733.9 1730.5,1703.4 1732.3,1698.7 1733.7,1731.6 1735.2,1759.8 1737.0,1804.4 1738.9,1762.1 1740.8,1797.3 1742.2,1844.3 1743.6,1867.8 1744.5,1887.8 1745.5,1797.3 1746.0,1725.7 1747.4,1750.4 1748.8,1809.1 1750.2,1745.7 1752.1,1773.9 1753.5,1738.6 1755.3,1731.6 1756.8,1699.9 1758.6,1745.7 1760.0,1708.1 1762.4,1705.7 1763.8,1745.7 1765.2,1773.9 1766.6,1797.3 1768.5,1809.1 1770.4,1827.9 1772.3,1809.1 1773.2,1759.8 1775.1,1799.7 1776.5,1750.4 1777.4,1724.5 1779.3,1766.8 1781.2,1738.6 1783.5,1765.6 1784.9,1731.6 1786.8,1726.9 1788.7,1743.3 1790.6,1718.7 1792.5,1743.3 1794.3,1745.7 1796.2,1726.9 1798.6,1743.3 1800.0,1722.2 1801.9,1741.0 1802.8,1695.2 1804.7,1696.4 1806.5,1736.3 1808.4,1708.1 1810.3,1722.2 1812.2,1694.0 1814.1,1703.4 1815.9,1674.0 1817.4,1708.1 1819.2,1742.1 1821.1,1708.1 1822.5,1705.7 1823.9,1738.6 1825.3,1773.9 1826.7,1816.1 1828.2,1849.0 1829.6,1874.8 1831.4,1891.3 1832.9,1910.1 1834.3,1891.3 1835.7,1926.5 1837.3,1945.3 1838.5,1914.8 1839.9,1884.2 1840.8,1910.1 1842.2,1844.3 1843.7,1846.7 1844.6,1708.1 1846.5,1739.8 1847.9,1665.8 1849.8,1644.7 1850.9,1632.9 1852.6,1670.5 1854.0,1746.8 1855.9,1703.4 1857.7,1745.7 1859.6,1717.5 1861.0,1750.4 1862.4,1773.9 1863.4,1863.1 1864.8,1856.1 1866.2,1792.6 1867.6,1856.1 1869.0,1860.7 1870.9,1806.7 1872.3,1891.3 1874.2,1877.2 1876.1,1863.1 1877.5,1820.8 1877.9,1750.4 1878.9,1697.5 1880.3,1726.9 1881.2,1773.9 1882.6,1824.3 1884.5,1797.3 1885.5,1750.4 1886.9,1730.4 1888.7,1750.4 1890.2,1773.9 1891.6,1816.1 1893.0,1726.9 1893.9,1677.6 1896.7,1675.2 1899.1,1712.8 1900.5,1679.9 1902.8,1679.9 1904.2,1703.4 1906.1,1763.3 1907.5,1731.6 1909.9,1736.3 1911.3,1762.1 1913.2,1776.2 1915.0,1757.4 1916.9,1769.2 1918.8,1752.7 1920.7,1773.9 1922.6,1748.0 1924.4,1787.9 1926.3,1748.0 1928.2,1764.5 1930.1,1759.8 1931.0,1712.8 1932.4,1738.6 1933.8,1712.8 1934.8,1694.0 1936.7,1708.1 1938.5,1744.5 1940.4,1703.4 1942.3,1717.5 1944.2,1694.0 1946.0,1708.1 1947.9,1690.5 1949.8,1708.1 1951.7,1694.0 1953.6,1703.4 1955.4,1738.6 1957.3,1773.9 1958.7,1820.8 1959.9,1839.6 1961.1,1839.6 1962.9,1867.8 1964.3,1837.3 1965.8,1891.3 1967.2,1905.4 1968.8,1946.5 1970.0,1891.3 1970.5,1811.4 1972.3,1820.8 1973.7,1785.6 1975.6,1820.8 1977.5,1822.0 1978.4,1773.9 1979.8,1758.6 1981.3,1797.3 1982.7,1764.5 1984.5,1823.2 1986.0,1773.9 1987.4,1823.2 1988.3,1773.9 1989.7,1745.7 1991.1,1797.3 1992.5,1773.9 1993.9,1750.4 1994.9,1820.8 1995.8,1852.5 1996.8,1797.3 1997.7,1773.9 1998.6,1822.0 2000.0,1797.3 2001.0,1762.1 2002.4,1750.4 2003.8,1776.2 2004.7,1738.6 2006.2,1726.9 2007.6,1703.4 2008.7,1684.6 2010.4,1731.6 2011.8,1712.8 2014.1,1753.9 2015.5,1699.9 2017.4,1745.7 2018.8,1689.3 2019.8,1657.6 2021.2,1661.1 2022.1,1726.9 2023.5,1784.4 2024.5,1726.9 2025.4,1694.0 2028.2,1701.0 2029.2,1750.4 2030.1,1797.3 2032.0,1802.0 2033.9,1787.9 2036.2,1812.6 2037.6,1764.5 2039.5,1773.9 2040.9,1750.4 2042.3,1773.9 2043.7,1733.9 2045.6,1717.5 2047.0,1705.7 2048.4,1773.9 2050.3,1722.2 2051.7,1778.5 2053.1,1724.5 2054.5,1773.9 2056.4,1743.3 2057.4,1787.9 2058.8,1773.9 2059.7,1724.5 2061.6,1787.9 2063.0,1750.4 2064.4,1776.2 2066.3,1778.5 2067.2,1842.0 2068.6,1813.8 2070.5,1851.4 2072.4,1854.9 2073.8,1813.8 2075.2,1842.0 2076.1,1773.9 2077.5,1762.1 2079.0,1778.5 2080.4,1750.4 2081.8,1796.2 2083.2,1773.9 2084.1,1745.7 2085.1,1796.2"/>
<g class="k" shape-rendering="crispEdges">
<rect x="206" y="175" width="1981" height="1815" stroke-width="4"/>
<line x1="206" x2="2187" y1="628.5" y2="628.5" stroke-width="5"/>
<line x1="206" x2="2187" y1="1082" y2="1082" stroke-width="5"/>
<line x1="206" x2="2187" y1="1537" y2="1537" stroke-width="5"/>
<line x1="184" x2="206" y1="616.5" y2="616.5" stroke-width="4.5" stroke-linecap="round"/>
<line x1="184" x2="206" y1="499.3" y2="499.3" stroke-width="4.5" stroke-linecap="round"/>
<line x1="184" x2="206" y1="382" y2="382" stroke-width="4.5" stroke-linecap="round"/>
<line x1="184" x2="206" y1="264.8" y2="264.8" stroke-width="4.5" stroke-linecap="round"/>
<line x1="184" x2="206" y1="664.5" y2="664.5" stroke-width="4.5" stroke-linecap="round"/>
<line x1="184" x2="206" y1="737" y2="737" stroke-width="4.5" stroke-linecap="round"/>
<line x1="184" x2="206" y1="809.5" y2="809.5" stroke-width="4.5" stroke-linecap="round"/>
<line x1="184" x2="206" y1="882" y2="882" stroke-width="4.5" stroke-linecap="round"/>
<line x1="184" x2="206" y1="954.5" y2="954.5" stroke-width="4.5" stroke-linecap="round"/>
<line x1="184" x2="206" y1="1027" y2="1027" stroke-width="4.5" stroke-linecap="round"/>
<line x1="184" x2="206" y1="1117.6" y2="1117.6" stroke-width="4.5" stroke-linecap="round"/>
<line x1="184" x2="206" y1="1191" y2="1191" stroke-width="4.5" stroke-linecap="round"/>
<line x1="184" x2="206" y1="1263.6" y2="1263.6" stroke-width="4.5" stroke-linecap="round"/>
<line x1="184" x2="206" y1="1336.3" y2="1336.3" stroke-width="4.5" stroke-linecap="round"/>
<line x1="184" x2="206" y1="1408.9" y2="1408.9" stroke-width="4.5" stroke-linecap="round"/>
<line x1="184" x2="206" y1="1481.6" y2="1481.6" stroke-width="4.5" stroke-linecap="round"/>
<line x1="184" x2="206" y1="1537.5" y2="1537.5" stroke-width="4.5" stroke-linecap="round"/>
<line x1="184" x2="206" y1="1648.5" y2="1648.5" stroke-width="4.5" stroke-linecap="round"/>
<line x1="184" x2="206" y1="1759.2" y2="1759.2" stroke-width="4.5" stroke-linecap="round"/>
<line x1="184" x2="206" y1="1870" y2="1870" stroke-width="4.5" stroke-linecap="round"/>
<line x1="184" x2="206" y1="1980.4" y2="1980.4" stroke-width="4.5" stroke-linecap="round"/>
<line x1="220.2" x2="220.2" y1="1990" y2="2012" stroke-width="4.5" stroke-linecap="round"/>
<line x1="516.2" x2="516.2" y1="1990" y2="2012" stroke-width="4.5" stroke-linecap="round"/>
<line x1="812.2" x2="812.2" y1="1990" y2="2012" stroke-width="4.5" stroke-linecap="round"/>
<line x1="1108.2" x2="1108.2" y1="1990" y2="2012" stroke-width="4.5" stroke-linecap="round"/>
<line x1="1404.2" x2="1404.2" y1="1990" y2="2012" stroke-width="4.5" stroke-linecap="round"/>
<line x1="1700.2" x2="1700.2" y1="1990" y2="2012" stroke-width="4.5" stroke-linecap="round"/>
<line x1="1996.2" x2="1996.2" y1="1990" y2="2012" stroke-width="4.5" stroke-linecap="round"/>
</g>
<text class="ax" text-anchor="middle" transform="translate(153.5,616.5) rotate(-90)">0</text>
<text class="ax" text-anchor="middle" transform="translate(153.5,499.3) rotate(-90)">5</text>
<text class="ax" text-anchor="middle" transform="translate(153.5,382) rotate(-90)">10</text>
<text class="ax" text-anchor="middle" transform="translate(153.5,264.8) rotate(-90)">15</text>
<text class="ax" text-anchor="middle" transform="translate(153.5,664.5) rotate(-90)">14</text>
<text class="ax" text-anchor="middle" transform="translate(153.5,737) rotate(-90)">12</text>
<text class="ax" text-anchor="middle" transform="translate(153.5,809.5) rotate(-90)">10</text>
<text class="ax" text-anchor="middle" transform="translate(153.5,882) rotate(-90)">8</text>
<text class="ax" text-anchor="middle" transform="translate(153.5,954.5) rotate(-90)">6</text>
<text class="ax" text-anchor="middle" transform="translate(153.5,1027) rotate(-90)">4</text>
<text class="ax" text-anchor="middle" transform="translate(153.5,1191) rotate(-90)">1.10</text>
<text class="ax" text-anchor="middle" transform="translate(153.5,1336.3) rotate(-90)">1.00</text>
<text class="ax" text-anchor="middle" transform="translate(153.5,1481.6) rotate(-90)">0.90</text>
<text class="ax" text-anchor="middle" transform="translate(153.5,1537.5) rotate(-90)">2.0</text>
<text class="ax" text-anchor="middle" transform="translate(153.5,1648.5) rotate(-90)">1.5</text>
<text class="ax" text-anchor="middle" transform="translate(153.5,1759.2) rotate(-90)">1.0</text>
<text class="ax" text-anchor="middle" transform="translate(153.5,1870) rotate(-90)">0.5</text>
<text class="ax" text-anchor="middle" transform="translate(153.5,1980.4) rotate(-90)">0.0</text>
<text class="ax" text-anchor="middle" x="221.2" y="2069">0</text>
<text class="ax" text-anchor="middle" x="517.2" y="2069">5</text>
<text class="ax" text-anchor="middle" x="813.2" y="2069">10</text>
<text class="ax" text-anchor="middle" x="1109.2" y="2069">15</text>
<text class="ax" text-anchor="middle" x="1405.2" y="2069">20</text>
<text class="ax" text-anchor="middle" x="1701.2" y="2069">25</text>
<text class="ax" text-anchor="middle" x="1997.2" y="2069">30</text>
<text class="lab" text-anchor="middle" transform="translate(66.5,402.3) rotate(-90)">observed</text>
<text class="lab" text-anchor="middle" transform="translate(66.5,858) rotate(-90)">trend</text>
<text class="lab" text-anchor="middle" transform="translate(66.5,1310.5) rotate(-90)">seasonal</text>
<text class="lab" text-anchor="middle" transform="translate(66.5,1763) rotate(-90)">random</text>
<text class="lab" text-anchor="middle" x="1196.2" y="2155.7">Time</text>
</svg></body></html>
